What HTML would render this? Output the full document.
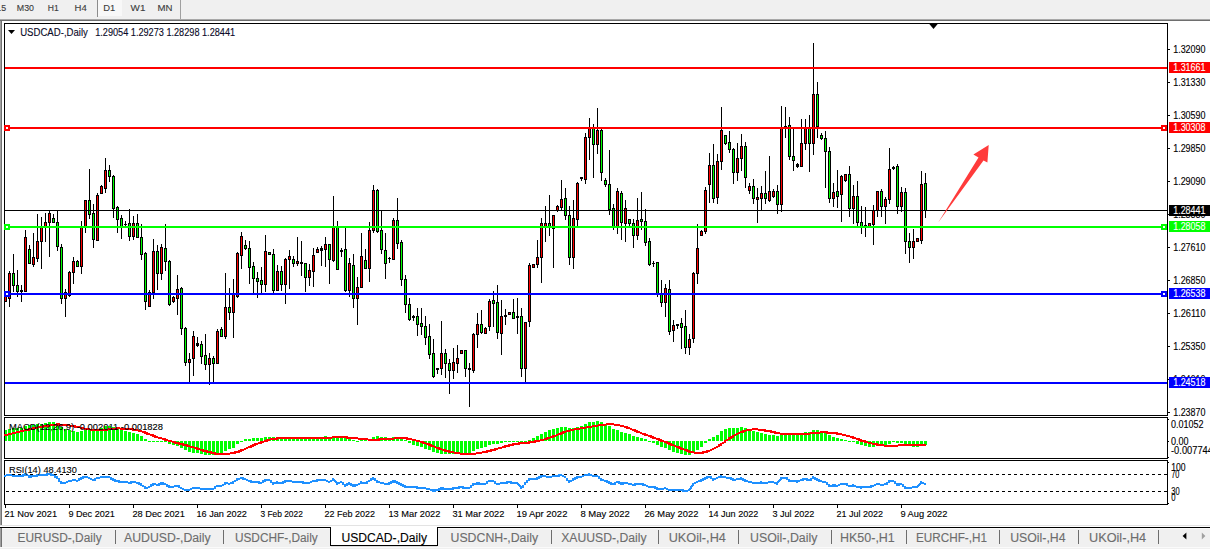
<!DOCTYPE html>
<html><head><meta charset="utf-8"><title>USDCAD Daily</title>
<style>html,body{margin:0;padding:0;background:#fff;overflow:hidden}svg{display:block}text{font-family:'Liberation Sans',sans-serif}</style>
</head><body>
<svg width="1210" height="549" viewBox="0 0 1210 549">
<rect x="0" y="0" width="1210" height="549" fill="#fff"/>
<rect x="0" y="0" width="1210" height="19" fill="#f0f0f0"/>
<rect x="0" y="19" width="1210" height="1" fill="#a8a8a8"/>
<rect x="0" y="20" width="1210" height="1" fill="#6e6e6e"/>
<rect x="98" y="0" width="24" height="16" fill="#f8f8f8"/>
<rect x="97" y="0" width="1" height="17" fill="#8c8c8c"/>
<rect x="180" y="0" width="1" height="19" fill="#a0a0a0"/>
<text x="-11" y="11" font-size="9.6" fill="#3c3c3c" stroke="#3c3c3c" stroke-width="0.12" textLength="17.2" lengthAdjust="spacingAndGlyphs">M15</text>
<text x="16.8" y="11" font-size="9.6" fill="#3c3c3c" stroke="#3c3c3c" stroke-width="0.12" textLength="17.2" lengthAdjust="spacingAndGlyphs">M30</text>
<text x="47.7" y="11" font-size="9.6" fill="#3c3c3c" stroke="#3c3c3c" stroke-width="0.12" textLength="11.0" lengthAdjust="spacingAndGlyphs">H1</text>
<text x="74.5" y="11" font-size="9.6" fill="#3c3c3c" stroke="#3c3c3c" stroke-width="0.12" textLength="12.2" lengthAdjust="spacingAndGlyphs">H4</text>
<text x="103.3" y="11" font-size="9.6" fill="#3c3c3c" stroke="#3c3c3c" stroke-width="0.12" textLength="12.0" lengthAdjust="spacingAndGlyphs">D1</text>
<text x="130.6" y="11" font-size="9.6" fill="#3c3c3c" stroke="#3c3c3c" stroke-width="0.12" textLength="14.8" lengthAdjust="spacingAndGlyphs">W1</text>
<text x="157.4" y="11" font-size="9.6" fill="#3c3c3c" stroke="#3c3c3c" stroke-width="0.12" textLength="15.0" lengthAdjust="spacingAndGlyphs">MN</text>
<rect x="0" y="21" width="1" height="504" fill="#a0a0a0"/>
<rect x="1" y="21" width="1" height="504" fill="#727272"/>
<rect x="4" y="23" width="1164" height="1" fill="#000"/>
<rect x="4" y="415" width="1164" height="1" fill="#000"/>
<rect x="4" y="23" width="1" height="393" fill="#000"/>
<rect x="1167" y="23" width="1" height="393" fill="#000"/>
<rect x="4" y="417" width="1164" height="1" fill="#000"/>
<rect x="4" y="458" width="1164" height="1" fill="#000"/>
<rect x="4" y="417" width="1" height="42" fill="#000"/>
<rect x="1167" y="417" width="1" height="42" fill="#000"/>
<rect x="4" y="460" width="1164" height="1" fill="#000"/>
<rect x="4" y="504" width="1164" height="1" fill="#000"/>
<rect x="4" y="460" width="1" height="45" fill="#000"/>
<rect x="1167" y="460" width="1" height="45" fill="#000"/>
<g shape-rendering="crispEdges">
<rect x="5" y="291" width="1" height="11" fill="#000"/>
<rect x="4" y="295" width="3" height="7" fill="#000"/>
<rect x="5" y="296" width="1" height="5" fill="#ff0000"/>
<rect x="9" y="271" width="1" height="36" fill="#000"/>
<rect x="8" y="273" width="3" height="26" fill="#000"/>
<rect x="9" y="274" width="1" height="24" fill="#ff0000"/>
<rect x="13" y="254" width="1" height="38" fill="#000"/>
<rect x="12" y="273" width="3" height="13" fill="#000"/>
<rect x="13" y="274" width="1" height="11" fill="#00ff00"/>
<rect x="17" y="270" width="1" height="27" fill="#000"/>
<rect x="16" y="285" width="3" height="7" fill="#000"/>
<rect x="17" y="286" width="1" height="5" fill="#00ff00"/>
<rect x="21" y="285" width="1" height="17" fill="#000"/>
<rect x="20" y="290" width="3" height="2" fill="#000"/>
<rect x="25" y="230" width="1" height="62" fill="#000"/>
<rect x="24" y="237" width="3" height="55" fill="#000"/>
<rect x="25" y="238" width="1" height="53" fill="#ff0000"/>
<rect x="29" y="245" width="1" height="19" fill="#000"/>
<rect x="28" y="249" width="3" height="15" fill="#000"/>
<rect x="29" y="250" width="1" height="13" fill="#00ff00"/>
<rect x="33" y="233" width="1" height="34" fill="#000"/>
<rect x="32" y="257" width="3" height="8" fill="#000"/>
<rect x="33" y="258" width="1" height="6" fill="#ff0000"/>
<rect x="37" y="214" width="1" height="48" fill="#000"/>
<rect x="36" y="241" width="3" height="18" fill="#000"/>
<rect x="37" y="242" width="1" height="16" fill="#ff0000"/>
<rect x="41" y="217" width="1" height="52" fill="#000"/>
<rect x="40" y="226" width="3" height="16" fill="#000"/>
<rect x="41" y="227" width="1" height="14" fill="#ff0000"/>
<rect x="45" y="213" width="1" height="29" fill="#000"/>
<rect x="44" y="222" width="3" height="5" fill="#000"/>
<rect x="45" y="223" width="1" height="3" fill="#ff0000"/>
<rect x="49" y="210" width="1" height="47" fill="#000"/>
<rect x="48" y="213" width="3" height="10" fill="#000"/>
<rect x="49" y="214" width="1" height="8" fill="#ff0000"/>
<rect x="53" y="214" width="1" height="9" fill="#000"/>
<rect x="52" y="218" width="3" height="5" fill="#000"/>
<rect x="53" y="219" width="1" height="3" fill="#00ff00"/>
<rect x="57" y="210" width="1" height="41" fill="#000"/>
<rect x="56" y="222" width="3" height="25" fill="#000"/>
<rect x="57" y="223" width="1" height="23" fill="#00ff00"/>
<rect x="61" y="244" width="1" height="60" fill="#000"/>
<rect x="60" y="247" width="3" height="52" fill="#000"/>
<rect x="61" y="248" width="1" height="50" fill="#00ff00"/>
<rect x="65" y="289" width="1" height="28" fill="#000"/>
<rect x="64" y="292" width="3" height="7" fill="#000"/>
<rect x="65" y="293" width="1" height="5" fill="#ff0000"/>
<rect x="69" y="271" width="1" height="26" fill="#000"/>
<rect x="68" y="272" width="3" height="24" fill="#000"/>
<rect x="69" y="273" width="1" height="22" fill="#ff0000"/>
<rect x="73" y="257" width="1" height="27" fill="#000"/>
<rect x="72" y="261" width="3" height="12" fill="#000"/>
<rect x="73" y="262" width="1" height="10" fill="#ff0000"/>
<rect x="77" y="260" width="1" height="7" fill="#000"/>
<rect x="76" y="261" width="3" height="6" fill="#000"/>
<rect x="77" y="262" width="1" height="4" fill="#00ff00"/>
<rect x="81" y="221" width="1" height="53" fill="#000"/>
<rect x="80" y="227" width="3" height="40" fill="#000"/>
<rect x="81" y="228" width="1" height="38" fill="#ff0000"/>
<rect x="85" y="200" width="1" height="33" fill="#000"/>
<rect x="84" y="200" width="3" height="28" fill="#000"/>
<rect x="85" y="201" width="1" height="26" fill="#ff0000"/>
<rect x="89" y="169" width="1" height="50" fill="#000"/>
<rect x="88" y="200" width="3" height="15" fill="#000"/>
<rect x="89" y="201" width="1" height="13" fill="#00ff00"/>
<rect x="93" y="204" width="1" height="44" fill="#000"/>
<rect x="92" y="213" width="3" height="27" fill="#000"/>
<rect x="93" y="214" width="1" height="25" fill="#00ff00"/>
<rect x="97" y="193" width="1" height="48" fill="#000"/>
<rect x="96" y="195" width="3" height="46" fill="#000"/>
<rect x="97" y="196" width="1" height="44" fill="#ff0000"/>
<rect x="101" y="185" width="1" height="9" fill="#000"/>
<rect x="100" y="186" width="3" height="8" fill="#000"/>
<rect x="101" y="187" width="1" height="6" fill="#ff0000"/>
<rect x="105" y="158" width="1" height="35" fill="#000"/>
<rect x="104" y="170" width="3" height="19" fill="#000"/>
<rect x="105" y="171" width="1" height="17" fill="#ff0000"/>
<rect x="109" y="165" width="1" height="17" fill="#000"/>
<rect x="108" y="170" width="3" height="7" fill="#000"/>
<rect x="109" y="171" width="1" height="5" fill="#00ff00"/>
<rect x="113" y="175" width="1" height="43" fill="#000"/>
<rect x="112" y="176" width="3" height="33" fill="#000"/>
<rect x="113" y="177" width="1" height="31" fill="#00ff00"/>
<rect x="117" y="206" width="1" height="27" fill="#000"/>
<rect x="116" y="207" width="3" height="13" fill="#000"/>
<rect x="117" y="208" width="1" height="11" fill="#00ff00"/>
<rect x="121" y="215" width="1" height="24" fill="#000"/>
<rect x="120" y="218" width="3" height="10" fill="#000"/>
<rect x="121" y="219" width="1" height="8" fill="#00ff00"/>
<rect x="125" y="221" width="1" height="6" fill="#000"/>
<rect x="124" y="224" width="3" height="1" fill="#000"/>
<rect x="129" y="209" width="1" height="32" fill="#000"/>
<rect x="128" y="223" width="3" height="14" fill="#000"/>
<rect x="129" y="224" width="1" height="12" fill="#00ff00"/>
<rect x="133" y="216" width="1" height="24" fill="#000"/>
<rect x="132" y="223" width="3" height="14" fill="#000"/>
<rect x="133" y="224" width="1" height="12" fill="#ff0000"/>
<rect x="137" y="214" width="1" height="24" fill="#000"/>
<rect x="136" y="223" width="3" height="15" fill="#000"/>
<rect x="137" y="224" width="1" height="13" fill="#00ff00"/>
<rect x="141" y="224" width="1" height="36" fill="#000"/>
<rect x="140" y="237" width="3" height="18" fill="#000"/>
<rect x="141" y="238" width="1" height="16" fill="#00ff00"/>
<rect x="145" y="252" width="1" height="58" fill="#000"/>
<rect x="144" y="253" width="3" height="49" fill="#000"/>
<rect x="145" y="254" width="1" height="47" fill="#00ff00"/>
<rect x="149" y="290" width="1" height="17" fill="#000"/>
<rect x="148" y="292" width="3" height="15" fill="#000"/>
<rect x="149" y="293" width="1" height="13" fill="#ff0000"/>
<rect x="153" y="239" width="1" height="60" fill="#000"/>
<rect x="152" y="251" width="3" height="42" fill="#000"/>
<rect x="153" y="252" width="1" height="40" fill="#ff0000"/>
<rect x="157" y="245" width="1" height="45" fill="#000"/>
<rect x="156" y="251" width="3" height="23" fill="#000"/>
<rect x="157" y="252" width="1" height="21" fill="#00ff00"/>
<rect x="161" y="244" width="1" height="36" fill="#000"/>
<rect x="160" y="247" width="3" height="27" fill="#000"/>
<rect x="161" y="248" width="1" height="25" fill="#ff0000"/>
<rect x="165" y="224" width="1" height="47" fill="#000"/>
<rect x="164" y="248" width="3" height="14" fill="#000"/>
<rect x="165" y="249" width="1" height="12" fill="#00ff00"/>
<rect x="169" y="260" width="1" height="46" fill="#000"/>
<rect x="168" y="261" width="3" height="44" fill="#000"/>
<rect x="169" y="262" width="1" height="42" fill="#00ff00"/>
<rect x="173" y="296" width="1" height="7" fill="#000"/>
<rect x="172" y="297" width="3" height="5" fill="#000"/>
<rect x="173" y="298" width="1" height="3" fill="#ff0000"/>
<rect x="177" y="275" width="1" height="40" fill="#000"/>
<rect x="176" y="289" width="3" height="10" fill="#000"/>
<rect x="177" y="290" width="1" height="8" fill="#ff0000"/>
<rect x="181" y="287" width="1" height="48" fill="#000"/>
<rect x="180" y="288" width="3" height="41" fill="#000"/>
<rect x="181" y="289" width="1" height="39" fill="#00ff00"/>
<rect x="185" y="327" width="1" height="39" fill="#000"/>
<rect x="184" y="328" width="3" height="35" fill="#000"/>
<rect x="185" y="329" width="1" height="33" fill="#00ff00"/>
<rect x="189" y="353" width="1" height="30" fill="#000"/>
<rect x="188" y="359" width="3" height="4" fill="#000"/>
<rect x="189" y="360" width="1" height="2" fill="#ff0000"/>
<rect x="193" y="331" width="1" height="45" fill="#000"/>
<rect x="192" y="336" width="3" height="23" fill="#000"/>
<rect x="193" y="337" width="1" height="21" fill="#ff0000"/>
<rect x="197" y="337" width="1" height="10" fill="#000"/>
<rect x="196" y="343" width="3" height="3" fill="#000"/>
<rect x="201" y="341" width="1" height="23" fill="#000"/>
<rect x="200" y="344" width="3" height="13" fill="#000"/>
<rect x="201" y="345" width="1" height="11" fill="#00ff00"/>
<rect x="205" y="334" width="1" height="36" fill="#000"/>
<rect x="204" y="355" width="3" height="10" fill="#000"/>
<rect x="205" y="356" width="1" height="8" fill="#00ff00"/>
<rect x="209" y="353" width="1" height="32" fill="#000"/>
<rect x="208" y="358" width="3" height="7" fill="#000"/>
<rect x="209" y="359" width="1" height="5" fill="#ff0000"/>
<rect x="213" y="356" width="1" height="27" fill="#000"/>
<rect x="212" y="358" width="3" height="6" fill="#000"/>
<rect x="213" y="359" width="1" height="4" fill="#00ff00"/>
<rect x="217" y="329" width="1" height="35" fill="#000"/>
<rect x="216" y="331" width="3" height="33" fill="#000"/>
<rect x="217" y="332" width="1" height="31" fill="#ff0000"/>
<rect x="221" y="327" width="1" height="10" fill="#000"/>
<rect x="220" y="329" width="3" height="8" fill="#000"/>
<rect x="221" y="330" width="1" height="6" fill="#00ff00"/>
<rect x="225" y="273" width="1" height="66" fill="#000"/>
<rect x="224" y="307" width="3" height="30" fill="#000"/>
<rect x="225" y="308" width="1" height="28" fill="#ff0000"/>
<rect x="229" y="288" width="1" height="32" fill="#000"/>
<rect x="228" y="307" width="3" height="6" fill="#000"/>
<rect x="229" y="308" width="1" height="4" fill="#00ff00"/>
<rect x="233" y="279" width="1" height="59" fill="#000"/>
<rect x="232" y="294" width="3" height="19" fill="#000"/>
<rect x="233" y="295" width="1" height="17" fill="#ff0000"/>
<rect x="237" y="252" width="1" height="46" fill="#000"/>
<rect x="236" y="253" width="3" height="44" fill="#000"/>
<rect x="237" y="254" width="1" height="42" fill="#ff0000"/>
<rect x="241" y="232" width="1" height="37" fill="#000"/>
<rect x="240" y="236" width="3" height="20" fill="#000"/>
<rect x="241" y="237" width="1" height="18" fill="#ff0000"/>
<rect x="245" y="240" width="1" height="10" fill="#000"/>
<rect x="244" y="245" width="3" height="4" fill="#000"/>
<rect x="245" y="246" width="1" height="2" fill="#00ff00"/>
<rect x="249" y="241" width="1" height="43" fill="#000"/>
<rect x="248" y="248" width="3" height="20" fill="#000"/>
<rect x="249" y="249" width="1" height="18" fill="#00ff00"/>
<rect x="253" y="262" width="1" height="31" fill="#000"/>
<rect x="252" y="266" width="3" height="13" fill="#000"/>
<rect x="253" y="267" width="1" height="11" fill="#00ff00"/>
<rect x="257" y="272" width="1" height="26" fill="#000"/>
<rect x="256" y="278" width="3" height="4" fill="#000"/>
<rect x="257" y="279" width="1" height="2" fill="#00ff00"/>
<rect x="261" y="267" width="1" height="27" fill="#000"/>
<rect x="260" y="280" width="3" height="5" fill="#000"/>
<rect x="261" y="281" width="1" height="3" fill="#00ff00"/>
<rect x="265" y="235" width="1" height="57" fill="#000"/>
<rect x="264" y="251" width="3" height="34" fill="#000"/>
<rect x="265" y="252" width="1" height="32" fill="#ff0000"/>
<rect x="269" y="252" width="1" height="3" fill="#000"/>
<rect x="268" y="252" width="3" height="3" fill="#000"/>
<rect x="269" y="253" width="1" height="1" fill="#00ff00"/>
<rect x="273" y="249" width="1" height="44" fill="#000"/>
<rect x="272" y="254" width="3" height="37" fill="#000"/>
<rect x="273" y="255" width="1" height="35" fill="#00ff00"/>
<rect x="277" y="265" width="1" height="26" fill="#000"/>
<rect x="276" y="271" width="3" height="20" fill="#000"/>
<rect x="277" y="272" width="1" height="18" fill="#ff0000"/>
<rect x="281" y="266" width="1" height="25" fill="#000"/>
<rect x="280" y="271" width="3" height="14" fill="#000"/>
<rect x="281" y="272" width="1" height="12" fill="#00ff00"/>
<rect x="285" y="258" width="1" height="46" fill="#000"/>
<rect x="284" y="259" width="3" height="26" fill="#000"/>
<rect x="285" y="260" width="1" height="24" fill="#ff0000"/>
<rect x="289" y="250" width="1" height="39" fill="#000"/>
<rect x="288" y="256" width="3" height="4" fill="#000"/>
<rect x="289" y="257" width="1" height="2" fill="#ff0000"/>
<rect x="293" y="256" width="1" height="11" fill="#000"/>
<rect x="292" y="259" width="3" height="5" fill="#000"/>
<rect x="293" y="260" width="1" height="3" fill="#00ff00"/>
<rect x="297" y="237" width="1" height="29" fill="#000"/>
<rect x="296" y="261" width="3" height="3" fill="#000"/>
<rect x="297" y="262" width="1" height="1" fill="#ff0000"/>
<rect x="301" y="241" width="1" height="35" fill="#000"/>
<rect x="300" y="262" width="3" height="2" fill="#000"/>
<rect x="305" y="263" width="1" height="29" fill="#000"/>
<rect x="304" y="263" width="3" height="15" fill="#000"/>
<rect x="305" y="264" width="1" height="13" fill="#00ff00"/>
<rect x="309" y="264" width="1" height="22" fill="#000"/>
<rect x="308" y="270" width="3" height="8" fill="#000"/>
<rect x="309" y="271" width="1" height="6" fill="#ff0000"/>
<rect x="313" y="248" width="1" height="39" fill="#000"/>
<rect x="312" y="255" width="3" height="17" fill="#000"/>
<rect x="313" y="256" width="1" height="15" fill="#ff0000"/>
<rect x="317" y="247" width="1" height="6" fill="#000"/>
<rect x="316" y="249" width="3" height="4" fill="#000"/>
<rect x="317" y="250" width="1" height="2" fill="#ff0000"/>
<rect x="321" y="246" width="1" height="20" fill="#000"/>
<rect x="320" y="248" width="3" height="3" fill="#000"/>
<rect x="325" y="237" width="1" height="30" fill="#000"/>
<rect x="324" y="244" width="3" height="6" fill="#000"/>
<rect x="325" y="245" width="1" height="4" fill="#ff0000"/>
<rect x="329" y="244" width="1" height="40" fill="#000"/>
<rect x="328" y="244" width="3" height="16" fill="#000"/>
<rect x="329" y="245" width="1" height="14" fill="#00ff00"/>
<rect x="333" y="196" width="1" height="66" fill="#000"/>
<rect x="332" y="227" width="3" height="34" fill="#000"/>
<rect x="333" y="228" width="1" height="32" fill="#ff0000"/>
<rect x="337" y="221" width="1" height="49" fill="#000"/>
<rect x="336" y="227" width="3" height="43" fill="#000"/>
<rect x="337" y="228" width="1" height="41" fill="#00ff00"/>
<rect x="341" y="248" width="1" height="9" fill="#000"/>
<rect x="340" y="250" width="3" height="2" fill="#000"/>
<rect x="345" y="228" width="1" height="64" fill="#000"/>
<rect x="344" y="249" width="3" height="42" fill="#000"/>
<rect x="345" y="250" width="1" height="40" fill="#00ff00"/>
<rect x="349" y="258" width="1" height="39" fill="#000"/>
<rect x="348" y="263" width="3" height="28" fill="#000"/>
<rect x="349" y="264" width="1" height="26" fill="#ff0000"/>
<rect x="353" y="254" width="1" height="54" fill="#000"/>
<rect x="352" y="265" width="3" height="34" fill="#000"/>
<rect x="353" y="266" width="1" height="32" fill="#00ff00"/>
<rect x="357" y="277" width="1" height="48" fill="#000"/>
<rect x="356" y="287" width="3" height="12" fill="#000"/>
<rect x="357" y="288" width="1" height="10" fill="#ff0000"/>
<rect x="361" y="233" width="1" height="55" fill="#000"/>
<rect x="360" y="256" width="3" height="32" fill="#000"/>
<rect x="361" y="257" width="1" height="30" fill="#ff0000"/>
<rect x="365" y="249" width="1" height="20" fill="#000"/>
<rect x="364" y="260" width="3" height="9" fill="#000"/>
<rect x="365" y="261" width="1" height="7" fill="#00ff00"/>
<rect x="369" y="222" width="1" height="60" fill="#000"/>
<rect x="368" y="230" width="3" height="39" fill="#000"/>
<rect x="369" y="231" width="1" height="37" fill="#ff0000"/>
<rect x="373" y="185" width="1" height="48" fill="#000"/>
<rect x="372" y="190" width="3" height="41" fill="#000"/>
<rect x="373" y="191" width="1" height="39" fill="#ff0000"/>
<rect x="377" y="189" width="1" height="44" fill="#000"/>
<rect x="376" y="190" width="3" height="42" fill="#000"/>
<rect x="377" y="191" width="1" height="40" fill="#00ff00"/>
<rect x="381" y="211" width="1" height="43" fill="#000"/>
<rect x="380" y="230" width="3" height="20" fill="#000"/>
<rect x="381" y="231" width="1" height="18" fill="#00ff00"/>
<rect x="385" y="233" width="1" height="46" fill="#000"/>
<rect x="384" y="250" width="3" height="14" fill="#000"/>
<rect x="385" y="251" width="1" height="12" fill="#00ff00"/>
<rect x="389" y="257" width="1" height="6" fill="#000"/>
<rect x="388" y="258" width="3" height="1" fill="#000"/>
<rect x="393" y="218" width="1" height="42" fill="#000"/>
<rect x="392" y="220" width="3" height="40" fill="#000"/>
<rect x="393" y="221" width="1" height="38" fill="#ff0000"/>
<rect x="397" y="198" width="1" height="51" fill="#000"/>
<rect x="396" y="220" width="3" height="24" fill="#000"/>
<rect x="397" y="221" width="1" height="22" fill="#00ff00"/>
<rect x="401" y="240" width="1" height="46" fill="#000"/>
<rect x="400" y="242" width="3" height="38" fill="#000"/>
<rect x="401" y="243" width="1" height="36" fill="#00ff00"/>
<rect x="405" y="275" width="1" height="38" fill="#000"/>
<rect x="404" y="279" width="3" height="26" fill="#000"/>
<rect x="405" y="280" width="1" height="24" fill="#00ff00"/>
<rect x="409" y="298" width="1" height="23" fill="#000"/>
<rect x="408" y="304" width="3" height="16" fill="#000"/>
<rect x="409" y="305" width="1" height="14" fill="#00ff00"/>
<rect x="413" y="315" width="1" height="6" fill="#000"/>
<rect x="412" y="316" width="3" height="2" fill="#000"/>
<rect x="417" y="308" width="1" height="28" fill="#000"/>
<rect x="416" y="316" width="3" height="9" fill="#000"/>
<rect x="417" y="317" width="1" height="7" fill="#00ff00"/>
<rect x="421" y="308" width="1" height="27" fill="#000"/>
<rect x="420" y="323" width="3" height="4" fill="#000"/>
<rect x="421" y="324" width="1" height="2" fill="#00ff00"/>
<rect x="425" y="316" width="1" height="29" fill="#000"/>
<rect x="424" y="326" width="3" height="12" fill="#000"/>
<rect x="425" y="327" width="1" height="10" fill="#00ff00"/>
<rect x="429" y="324" width="1" height="35" fill="#000"/>
<rect x="428" y="336" width="3" height="19" fill="#000"/>
<rect x="429" y="337" width="1" height="17" fill="#00ff00"/>
<rect x="433" y="339" width="1" height="39" fill="#000"/>
<rect x="432" y="353" width="3" height="24" fill="#000"/>
<rect x="433" y="354" width="1" height="22" fill="#00ff00"/>
<rect x="437" y="368" width="1" height="6" fill="#000"/>
<rect x="436" y="368" width="3" height="2" fill="#000"/>
<rect x="441" y="321" width="1" height="54" fill="#000"/>
<rect x="440" y="353" width="3" height="16" fill="#000"/>
<rect x="441" y="354" width="1" height="14" fill="#ff0000"/>
<rect x="445" y="349" width="1" height="29" fill="#000"/>
<rect x="444" y="353" width="3" height="11" fill="#000"/>
<rect x="445" y="354" width="1" height="9" fill="#00ff00"/>
<rect x="449" y="359" width="1" height="35" fill="#000"/>
<rect x="448" y="363" width="3" height="8" fill="#000"/>
<rect x="449" y="364" width="1" height="6" fill="#00ff00"/>
<rect x="453" y="348" width="1" height="31" fill="#000"/>
<rect x="452" y="362" width="3" height="9" fill="#000"/>
<rect x="453" y="363" width="1" height="7" fill="#ff0000"/>
<rect x="457" y="345" width="1" height="28" fill="#000"/>
<rect x="456" y="358" width="3" height="6" fill="#000"/>
<rect x="457" y="359" width="1" height="4" fill="#ff0000"/>
<rect x="461" y="350" width="1" height="4" fill="#000"/>
<rect x="460" y="350" width="3" height="4" fill="#000"/>
<rect x="461" y="351" width="1" height="2" fill="#ff0000"/>
<rect x="465" y="350" width="1" height="27" fill="#000"/>
<rect x="464" y="350" width="3" height="19" fill="#000"/>
<rect x="465" y="351" width="1" height="17" fill="#00ff00"/>
<rect x="469" y="363" width="1" height="44" fill="#000"/>
<rect x="468" y="368" width="3" height="2" fill="#000"/>
<rect x="473" y="333" width="1" height="40" fill="#000"/>
<rect x="472" y="334" width="3" height="37" fill="#000"/>
<rect x="473" y="335" width="1" height="35" fill="#ff0000"/>
<rect x="477" y="313" width="1" height="35" fill="#000"/>
<rect x="476" y="324" width="3" height="11" fill="#000"/>
<rect x="477" y="325" width="1" height="9" fill="#ff0000"/>
<rect x="481" y="310" width="1" height="24" fill="#000"/>
<rect x="480" y="324" width="3" height="9" fill="#000"/>
<rect x="481" y="325" width="1" height="7" fill="#00ff00"/>
<rect x="485" y="327" width="1" height="7" fill="#000"/>
<rect x="484" y="328" width="3" height="6" fill="#000"/>
<rect x="485" y="329" width="1" height="4" fill="#ff0000"/>
<rect x="489" y="299" width="1" height="32" fill="#000"/>
<rect x="488" y="301" width="3" height="26" fill="#000"/>
<rect x="489" y="302" width="1" height="24" fill="#ff0000"/>
<rect x="493" y="291" width="1" height="36" fill="#000"/>
<rect x="492" y="300" width="3" height="4" fill="#000"/>
<rect x="493" y="301" width="1" height="2" fill="#00ff00"/>
<rect x="497" y="285" width="1" height="54" fill="#000"/>
<rect x="496" y="302" width="3" height="31" fill="#000"/>
<rect x="497" y="303" width="1" height="29" fill="#00ff00"/>
<rect x="501" y="300" width="1" height="55" fill="#000"/>
<rect x="500" y="316" width="3" height="18" fill="#000"/>
<rect x="501" y="317" width="1" height="16" fill="#ff0000"/>
<rect x="505" y="309" width="1" height="16" fill="#000"/>
<rect x="504" y="315" width="3" height="2" fill="#000"/>
<rect x="509" y="312" width="1" height="3" fill="#000"/>
<rect x="508" y="312" width="3" height="3" fill="#000"/>
<rect x="509" y="313" width="1" height="1" fill="#ff0000"/>
<rect x="513" y="299" width="1" height="20" fill="#000"/>
<rect x="512" y="312" width="3" height="7" fill="#000"/>
<rect x="513" y="313" width="1" height="5" fill="#00ff00"/>
<rect x="517" y="298" width="1" height="36" fill="#000"/>
<rect x="516" y="316" width="3" height="2" fill="#000"/>
<rect x="521" y="308" width="1" height="69" fill="#000"/>
<rect x="520" y="316" width="3" height="53" fill="#000"/>
<rect x="521" y="317" width="1" height="51" fill="#00ff00"/>
<rect x="525" y="322" width="1" height="60" fill="#000"/>
<rect x="524" y="322" width="3" height="47" fill="#000"/>
<rect x="525" y="323" width="1" height="45" fill="#ff0000"/>
<rect x="529" y="263" width="1" height="64" fill="#000"/>
<rect x="528" y="265" width="3" height="57" fill="#000"/>
<rect x="529" y="266" width="1" height="55" fill="#ff0000"/>
<rect x="533" y="264" width="1" height="4" fill="#000"/>
<rect x="532" y="264" width="3" height="4" fill="#000"/>
<rect x="533" y="265" width="1" height="2" fill="#ff0000"/>
<rect x="537" y="240" width="1" height="28" fill="#000"/>
<rect x="536" y="257" width="3" height="8" fill="#000"/>
<rect x="537" y="258" width="1" height="6" fill="#ff0000"/>
<rect x="541" y="218" width="1" height="65" fill="#000"/>
<rect x="540" y="223" width="3" height="35" fill="#000"/>
<rect x="541" y="224" width="1" height="33" fill="#ff0000"/>
<rect x="545" y="206" width="1" height="36" fill="#000"/>
<rect x="544" y="223" width="3" height="4" fill="#000"/>
<rect x="545" y="224" width="1" height="2" fill="#ff0000"/>
<rect x="549" y="195" width="1" height="41" fill="#000"/>
<rect x="548" y="223" width="3" height="5" fill="#000"/>
<rect x="549" y="224" width="1" height="3" fill="#00ff00"/>
<rect x="553" y="215" width="1" height="53" fill="#000"/>
<rect x="552" y="215" width="3" height="14" fill="#000"/>
<rect x="553" y="216" width="1" height="12" fill="#ff0000"/>
<rect x="557" y="205" width="1" height="7" fill="#000"/>
<rect x="556" y="206" width="3" height="5" fill="#000"/>
<rect x="557" y="207" width="1" height="3" fill="#ff0000"/>
<rect x="561" y="180" width="1" height="30" fill="#000"/>
<rect x="560" y="199" width="3" height="9" fill="#000"/>
<rect x="561" y="200" width="1" height="7" fill="#ff0000"/>
<rect x="565" y="188" width="1" height="32" fill="#000"/>
<rect x="564" y="198" width="3" height="18" fill="#000"/>
<rect x="565" y="199" width="1" height="16" fill="#00ff00"/>
<rect x="569" y="206" width="1" height="59" fill="#000"/>
<rect x="568" y="215" width="3" height="43" fill="#000"/>
<rect x="569" y="216" width="1" height="41" fill="#00ff00"/>
<rect x="573" y="200" width="1" height="69" fill="#000"/>
<rect x="572" y="218" width="3" height="40" fill="#000"/>
<rect x="573" y="219" width="1" height="38" fill="#ff0000"/>
<rect x="577" y="182" width="1" height="44" fill="#000"/>
<rect x="576" y="183" width="3" height="37" fill="#000"/>
<rect x="577" y="184" width="1" height="35" fill="#ff0000"/>
<rect x="581" y="177" width="1" height="4" fill="#000"/>
<rect x="580" y="177" width="3" height="2" fill="#000"/>
<rect x="585" y="133" width="1" height="51" fill="#000"/>
<rect x="584" y="137" width="3" height="43" fill="#000"/>
<rect x="585" y="138" width="1" height="41" fill="#ff0000"/>
<rect x="589" y="118" width="1" height="42" fill="#000"/>
<rect x="588" y="128" width="3" height="10" fill="#000"/>
<rect x="589" y="129" width="1" height="8" fill="#ff0000"/>
<rect x="593" y="124" width="1" height="54" fill="#000"/>
<rect x="592" y="128" width="3" height="17" fill="#000"/>
<rect x="593" y="129" width="1" height="15" fill="#00ff00"/>
<rect x="597" y="108" width="1" height="46" fill="#000"/>
<rect x="596" y="130" width="3" height="15" fill="#000"/>
<rect x="597" y="131" width="1" height="13" fill="#ff0000"/>
<rect x="601" y="128" width="1" height="53" fill="#000"/>
<rect x="600" y="130" width="3" height="43" fill="#000"/>
<rect x="601" y="131" width="1" height="41" fill="#00ff00"/>
<rect x="605" y="178" width="1" height="9" fill="#000"/>
<rect x="604" y="180" width="3" height="5" fill="#000"/>
<rect x="605" y="181" width="1" height="3" fill="#00ff00"/>
<rect x="609" y="150" width="1" height="65" fill="#000"/>
<rect x="608" y="184" width="3" height="26" fill="#000"/>
<rect x="609" y="185" width="1" height="24" fill="#00ff00"/>
<rect x="613" y="204" width="1" height="26" fill="#000"/>
<rect x="612" y="208" width="3" height="20" fill="#000"/>
<rect x="613" y="209" width="1" height="18" fill="#00ff00"/>
<rect x="617" y="188" width="1" height="46" fill="#000"/>
<rect x="616" y="191" width="3" height="36" fill="#000"/>
<rect x="617" y="192" width="1" height="34" fill="#ff0000"/>
<rect x="621" y="191" width="1" height="49" fill="#000"/>
<rect x="620" y="193" width="3" height="30" fill="#000"/>
<rect x="621" y="194" width="1" height="28" fill="#00ff00"/>
<rect x="625" y="200" width="1" height="42" fill="#000"/>
<rect x="624" y="208" width="3" height="16" fill="#000"/>
<rect x="625" y="209" width="1" height="14" fill="#ff0000"/>
<rect x="629" y="219" width="1" height="7" fill="#000"/>
<rect x="628" y="219" width="3" height="5" fill="#000"/>
<rect x="629" y="220" width="1" height="3" fill="#00ff00"/>
<rect x="633" y="219" width="1" height="29" fill="#000"/>
<rect x="632" y="223" width="3" height="13" fill="#000"/>
<rect x="633" y="224" width="1" height="11" fill="#00ff00"/>
<rect x="637" y="198" width="1" height="42" fill="#000"/>
<rect x="636" y="220" width="3" height="16" fill="#000"/>
<rect x="637" y="221" width="1" height="14" fill="#ff0000"/>
<rect x="641" y="192" width="1" height="38" fill="#000"/>
<rect x="640" y="219" width="3" height="3" fill="#000"/>
<rect x="641" y="220" width="1" height="1" fill="#00ff00"/>
<rect x="645" y="209" width="1" height="37" fill="#000"/>
<rect x="644" y="221" width="3" height="22" fill="#000"/>
<rect x="645" y="222" width="1" height="20" fill="#00ff00"/>
<rect x="649" y="238" width="1" height="28" fill="#000"/>
<rect x="648" y="241" width="3" height="24" fill="#000"/>
<rect x="649" y="242" width="1" height="22" fill="#00ff00"/>
<rect x="653" y="261" width="1" height="6" fill="#000"/>
<rect x="652" y="263" width="3" height="1" fill="#000"/>
<rect x="657" y="262" width="1" height="35" fill="#000"/>
<rect x="656" y="262" width="3" height="33" fill="#000"/>
<rect x="657" y="263" width="1" height="31" fill="#00ff00"/>
<rect x="661" y="280" width="1" height="27" fill="#000"/>
<rect x="660" y="294" width="3" height="9" fill="#000"/>
<rect x="661" y="295" width="1" height="7" fill="#00ff00"/>
<rect x="665" y="284" width="1" height="33" fill="#000"/>
<rect x="664" y="288" width="3" height="15" fill="#000"/>
<rect x="665" y="289" width="1" height="13" fill="#ff0000"/>
<rect x="669" y="280" width="1" height="55" fill="#000"/>
<rect x="668" y="289" width="3" height="43" fill="#000"/>
<rect x="669" y="290" width="1" height="41" fill="#00ff00"/>
<rect x="673" y="320" width="1" height="22" fill="#000"/>
<rect x="672" y="325" width="3" height="6" fill="#000"/>
<rect x="673" y="326" width="1" height="4" fill="#ff0000"/>
<rect x="677" y="324" width="1" height="5" fill="#000"/>
<rect x="676" y="324" width="3" height="2" fill="#000"/>
<rect x="681" y="318" width="1" height="31" fill="#000"/>
<rect x="680" y="323" width="3" height="5" fill="#000"/>
<rect x="681" y="324" width="1" height="3" fill="#00ff00"/>
<rect x="685" y="310" width="1" height="44" fill="#000"/>
<rect x="684" y="326" width="3" height="22" fill="#000"/>
<rect x="685" y="327" width="1" height="20" fill="#00ff00"/>
<rect x="689" y="334" width="1" height="21" fill="#000"/>
<rect x="688" y="339" width="3" height="9" fill="#000"/>
<rect x="689" y="340" width="1" height="7" fill="#ff0000"/>
<rect x="693" y="272" width="1" height="71" fill="#000"/>
<rect x="692" y="273" width="3" height="66" fill="#000"/>
<rect x="693" y="274" width="1" height="64" fill="#ff0000"/>
<rect x="697" y="224" width="1" height="60" fill="#000"/>
<rect x="696" y="248" width="3" height="26" fill="#000"/>
<rect x="697" y="249" width="1" height="24" fill="#ff0000"/>
<rect x="701" y="230" width="1" height="6" fill="#000"/>
<rect x="700" y="231" width="3" height="5" fill="#000"/>
<rect x="701" y="232" width="1" height="3" fill="#ff0000"/>
<rect x="705" y="187" width="1" height="47" fill="#000"/>
<rect x="704" y="190" width="3" height="42" fill="#000"/>
<rect x="705" y="191" width="1" height="40" fill="#ff0000"/>
<rect x="709" y="153" width="1" height="50" fill="#000"/>
<rect x="708" y="165" width="3" height="20" fill="#000"/>
<rect x="709" y="166" width="1" height="18" fill="#ff0000"/>
<rect x="713" y="144" width="1" height="59" fill="#000"/>
<rect x="712" y="165" width="3" height="34" fill="#000"/>
<rect x="713" y="166" width="1" height="32" fill="#00ff00"/>
<rect x="717" y="154" width="1" height="50" fill="#000"/>
<rect x="716" y="161" width="3" height="37" fill="#000"/>
<rect x="717" y="162" width="1" height="35" fill="#ff0000"/>
<rect x="721" y="107" width="1" height="63" fill="#000"/>
<rect x="720" y="130" width="3" height="32" fill="#000"/>
<rect x="721" y="131" width="1" height="30" fill="#ff0000"/>
<rect x="725" y="135" width="1" height="10" fill="#000"/>
<rect x="724" y="135" width="3" height="9" fill="#000"/>
<rect x="725" y="136" width="1" height="7" fill="#00ff00"/>
<rect x="729" y="131" width="1" height="22" fill="#000"/>
<rect x="728" y="142" width="3" height="8" fill="#000"/>
<rect x="729" y="143" width="1" height="6" fill="#00ff00"/>
<rect x="733" y="148" width="1" height="36" fill="#000"/>
<rect x="732" y="149" width="3" height="24" fill="#000"/>
<rect x="733" y="150" width="1" height="22" fill="#00ff00"/>
<rect x="737" y="143" width="1" height="38" fill="#000"/>
<rect x="736" y="158" width="3" height="15" fill="#000"/>
<rect x="737" y="159" width="1" height="13" fill="#ff0000"/>
<rect x="741" y="134" width="1" height="37" fill="#000"/>
<rect x="740" y="146" width="3" height="13" fill="#000"/>
<rect x="741" y="147" width="1" height="11" fill="#ff0000"/>
<rect x="745" y="142" width="1" height="46" fill="#000"/>
<rect x="744" y="146" width="3" height="32" fill="#000"/>
<rect x="745" y="147" width="1" height="30" fill="#00ff00"/>
<rect x="749" y="183" width="1" height="11" fill="#000"/>
<rect x="748" y="186" width="3" height="5" fill="#000"/>
<rect x="749" y="187" width="1" height="3" fill="#ff0000"/>
<rect x="753" y="179" width="1" height="25" fill="#000"/>
<rect x="752" y="186" width="3" height="13" fill="#000"/>
<rect x="753" y="187" width="1" height="11" fill="#00ff00"/>
<rect x="757" y="188" width="1" height="35" fill="#000"/>
<rect x="756" y="197" width="3" height="3" fill="#000"/>
<rect x="757" y="198" width="1" height="1" fill="#ff0000"/>
<rect x="761" y="186" width="1" height="25" fill="#000"/>
<rect x="760" y="193" width="3" height="6" fill="#000"/>
<rect x="761" y="194" width="1" height="4" fill="#ff0000"/>
<rect x="765" y="171" width="1" height="33" fill="#000"/>
<rect x="764" y="193" width="3" height="6" fill="#000"/>
<rect x="765" y="194" width="1" height="4" fill="#00ff00"/>
<rect x="769" y="156" width="1" height="46" fill="#000"/>
<rect x="768" y="191" width="3" height="10" fill="#000"/>
<rect x="769" y="192" width="1" height="8" fill="#ff0000"/>
<rect x="773" y="189" width="1" height="9" fill="#000"/>
<rect x="772" y="191" width="3" height="6" fill="#000"/>
<rect x="773" y="192" width="1" height="4" fill="#ff0000"/>
<rect x="777" y="185" width="1" height="29" fill="#000"/>
<rect x="776" y="191" width="3" height="14" fill="#000"/>
<rect x="777" y="192" width="1" height="12" fill="#00ff00"/>
<rect x="781" y="106" width="1" height="106" fill="#000"/>
<rect x="780" y="128" width="3" height="77" fill="#000"/>
<rect x="781" y="129" width="1" height="75" fill="#ff0000"/>
<rect x="785" y="107" width="1" height="31" fill="#000"/>
<rect x="784" y="126" width="3" height="3" fill="#000"/>
<rect x="785" y="127" width="1" height="1" fill="#ff0000"/>
<rect x="789" y="117" width="1" height="43" fill="#000"/>
<rect x="788" y="125" width="3" height="32" fill="#000"/>
<rect x="789" y="126" width="1" height="30" fill="#00ff00"/>
<rect x="793" y="127" width="1" height="44" fill="#000"/>
<rect x="792" y="156" width="3" height="5" fill="#000"/>
<rect x="793" y="157" width="1" height="3" fill="#00ff00"/>
<rect x="797" y="163" width="1" height="5" fill="#000"/>
<rect x="796" y="164" width="3" height="3" fill="#000"/>
<rect x="801" y="119" width="1" height="48" fill="#000"/>
<rect x="800" y="143" width="3" height="24" fill="#000"/>
<rect x="801" y="144" width="1" height="22" fill="#ff0000"/>
<rect x="805" y="119" width="1" height="31" fill="#000"/>
<rect x="804" y="128" width="3" height="16" fill="#000"/>
<rect x="805" y="129" width="1" height="14" fill="#ff0000"/>
<rect x="809" y="115" width="1" height="57" fill="#000"/>
<rect x="808" y="128" width="3" height="16" fill="#000"/>
<rect x="809" y="129" width="1" height="14" fill="#00ff00"/>
<rect x="813" y="43" width="1" height="112" fill="#000"/>
<rect x="812" y="94" width="3" height="50" fill="#000"/>
<rect x="813" y="95" width="1" height="48" fill="#ff0000"/>
<rect x="817" y="82" width="1" height="56" fill="#000"/>
<rect x="816" y="94" width="3" height="33" fill="#000"/>
<rect x="817" y="95" width="1" height="31" fill="#00ff00"/>
<rect x="821" y="133" width="1" height="7" fill="#000"/>
<rect x="820" y="135" width="3" height="4" fill="#000"/>
<rect x="821" y="136" width="1" height="2" fill="#00ff00"/>
<rect x="825" y="131" width="1" height="57" fill="#000"/>
<rect x="824" y="138" width="3" height="14" fill="#000"/>
<rect x="825" y="139" width="1" height="12" fill="#00ff00"/>
<rect x="829" y="147" width="1" height="56" fill="#000"/>
<rect x="828" y="151" width="3" height="48" fill="#000"/>
<rect x="829" y="152" width="1" height="46" fill="#00ff00"/>
<rect x="833" y="183" width="1" height="24" fill="#000"/>
<rect x="832" y="192" width="3" height="7" fill="#000"/>
<rect x="833" y="193" width="1" height="5" fill="#ff0000"/>
<rect x="837" y="170" width="1" height="38" fill="#000"/>
<rect x="836" y="191" width="3" height="6" fill="#000"/>
<rect x="837" y="192" width="1" height="4" fill="#00ff00"/>
<rect x="841" y="175" width="1" height="47" fill="#000"/>
<rect x="840" y="176" width="3" height="19" fill="#000"/>
<rect x="841" y="177" width="1" height="17" fill="#ff0000"/>
<rect x="845" y="174" width="1" height="8" fill="#000"/>
<rect x="844" y="174" width="3" height="7" fill="#000"/>
<rect x="845" y="175" width="1" height="5" fill="#ff0000"/>
<rect x="849" y="166" width="1" height="51" fill="#000"/>
<rect x="848" y="174" width="3" height="35" fill="#000"/>
<rect x="849" y="175" width="1" height="33" fill="#00ff00"/>
<rect x="853" y="185" width="1" height="39" fill="#000"/>
<rect x="852" y="196" width="3" height="13" fill="#000"/>
<rect x="853" y="197" width="1" height="11" fill="#ff0000"/>
<rect x="857" y="181" width="1" height="46" fill="#000"/>
<rect x="856" y="196" width="3" height="27" fill="#000"/>
<rect x="857" y="197" width="1" height="25" fill="#00ff00"/>
<rect x="861" y="206" width="1" height="28" fill="#000"/>
<rect x="860" y="222" width="3" height="6" fill="#000"/>
<rect x="861" y="223" width="1" height="4" fill="#00ff00"/>
<rect x="865" y="207" width="1" height="30" fill="#000"/>
<rect x="864" y="225" width="3" height="2" fill="#000"/>
<rect x="869" y="223" width="1" height="4" fill="#000"/>
<rect x="868" y="223" width="3" height="4" fill="#000"/>
<rect x="869" y="224" width="1" height="2" fill="#ff0000"/>
<rect x="873" y="205" width="1" height="40" fill="#000"/>
<rect x="872" y="210" width="3" height="15" fill="#000"/>
<rect x="873" y="211" width="1" height="13" fill="#ff0000"/>
<rect x="877" y="191" width="1" height="26" fill="#000"/>
<rect x="876" y="191" width="3" height="20" fill="#000"/>
<rect x="877" y="192" width="1" height="18" fill="#ff0000"/>
<rect x="881" y="189" width="1" height="28" fill="#000"/>
<rect x="880" y="191" width="3" height="16" fill="#000"/>
<rect x="881" y="192" width="1" height="14" fill="#00ff00"/>
<rect x="885" y="197" width="1" height="27" fill="#000"/>
<rect x="884" y="199" width="3" height="8" fill="#000"/>
<rect x="885" y="200" width="1" height="6" fill="#ff0000"/>
<rect x="889" y="148" width="1" height="56" fill="#000"/>
<rect x="888" y="169" width="3" height="31" fill="#000"/>
<rect x="889" y="170" width="1" height="29" fill="#ff0000"/>
<rect x="893" y="166" width="1" height="4" fill="#000"/>
<rect x="892" y="167" width="3" height="2" fill="#000"/>
<rect x="897" y="164" width="1" height="50" fill="#000"/>
<rect x="896" y="166" width="3" height="41" fill="#000"/>
<rect x="897" y="167" width="1" height="39" fill="#00ff00"/>
<rect x="901" y="187" width="1" height="25" fill="#000"/>
<rect x="900" y="192" width="3" height="15" fill="#000"/>
<rect x="901" y="193" width="1" height="13" fill="#ff0000"/>
<rect x="905" y="188" width="1" height="66" fill="#000"/>
<rect x="904" y="192" width="3" height="50" fill="#000"/>
<rect x="905" y="193" width="1" height="48" fill="#00ff00"/>
<rect x="909" y="233" width="1" height="30" fill="#000"/>
<rect x="908" y="241" width="3" height="7" fill="#000"/>
<rect x="909" y="242" width="1" height="5" fill="#00ff00"/>
<rect x="913" y="229" width="1" height="30" fill="#000"/>
<rect x="912" y="241" width="3" height="7" fill="#000"/>
<rect x="913" y="242" width="1" height="5" fill="#ff0000"/>
<rect x="917" y="238" width="1" height="4" fill="#000"/>
<rect x="916" y="238" width="3" height="4" fill="#000"/>
<rect x="917" y="239" width="1" height="2" fill="#ff0000"/>
<rect x="921" y="171" width="1" height="73" fill="#000"/>
<rect x="920" y="184" width="3" height="57" fill="#000"/>
<rect x="921" y="185" width="1" height="55" fill="#ff0000"/>
<rect x="925" y="173" width="1" height="45" fill="#000"/>
<rect x="924" y="183" width="3" height="28" fill="#000"/>
<rect x="925" y="184" width="1" height="26" fill="#00ff00"/>
</g>
<rect x="5" y="67" width="1162" height="2" fill="#ff0000"/>
<rect x="5" y="127" width="1162" height="2" fill="#ff0000"/>
<rect x="4" y="125" width="6" height="6" fill="#ff0000"/>
<rect x="6" y="127" width="2" height="2" fill="#fff"/>
<rect x="1161" y="125" width="6" height="6" fill="#ff0000"/>
<rect x="1163" y="127" width="2" height="2" fill="#fff"/>
<rect x="5" y="210" width="1162" height="1" fill="#000"/>
<rect x="5" y="226" width="1162" height="2" fill="#00ff00"/>
<rect x="4" y="224" width="6" height="6" fill="#00ff00"/>
<rect x="6" y="226" width="2" height="2" fill="#fff"/>
<rect x="1161" y="224" width="6" height="6" fill="#00ff00"/>
<rect x="1163" y="226" width="2" height="2" fill="#fff"/>
<rect x="5" y="293" width="1162" height="2" fill="#0000ff"/>
<rect x="4" y="291" width="6" height="6" fill="#0000ff"/>
<rect x="6" y="293" width="2" height="2" fill="#fff"/>
<rect x="1161" y="291" width="6" height="6" fill="#0000ff"/>
<rect x="1163" y="293" width="2" height="2" fill="#fff"/>
<rect x="5" y="382" width="1162" height="2" fill="#0000ff"/>
<polygon points="928.5,23 938.5,23 933.5,29" fill="#000"/>
<polygon points="938.2,222.4 978.5,157.5 973.4,154.4 988.7,144.9 987.4,162.6 983.5,160.5" fill="#ff3b3b"/>
<polygon points="8,30 15,30 11.5,34" fill="#000"/>
<text x="20.2" y="35.5" font-size="10" fill="#0a0a28" stroke="#0a0a28" stroke-width="0.12" textLength="67.7" lengthAdjust="spacingAndGlyphs">USDCAD-,Daily</text>
<text x="95.2" y="35.5" font-size="10" fill="#0a0a28" stroke="#0a0a28" stroke-width="0.12" textLength="139.9" lengthAdjust="spacingAndGlyphs">1.29054 1.29273 1.28298 1.28441</text>
<rect x="1168" y="49" width="2" height="1" fill="#000"/>
<text x="1173.2" y="53" font-size="10.0" fill="#000" stroke="#000" stroke-width="0.12" textLength="32.3" lengthAdjust="spacingAndGlyphs">1.32090</text>
<rect x="1168" y="82" width="2" height="1" fill="#000"/>
<text x="1173.2" y="86" font-size="10.0" fill="#000" stroke="#000" stroke-width="0.12" textLength="32.3" lengthAdjust="spacingAndGlyphs">1.31330</text>
<rect x="1168" y="115" width="2" height="1" fill="#000"/>
<text x="1173.2" y="119" font-size="10.0" fill="#000" stroke="#000" stroke-width="0.12" textLength="32.3" lengthAdjust="spacingAndGlyphs">1.30590</text>
<rect x="1168" y="148" width="2" height="1" fill="#000"/>
<text x="1173.2" y="152" font-size="10.0" fill="#000" stroke="#000" stroke-width="0.12" textLength="32.3" lengthAdjust="spacingAndGlyphs">1.29850</text>
<rect x="1168" y="181" width="2" height="1" fill="#000"/>
<text x="1173.2" y="185" font-size="10.0" fill="#000" stroke="#000" stroke-width="0.12" textLength="32.3" lengthAdjust="spacingAndGlyphs">1.29090</text>
<rect x="1168" y="214" width="2" height="1" fill="#000"/>
<text x="1173.2" y="218" font-size="10.0" fill="#000" stroke="#000" stroke-width="0.12" textLength="32.3" lengthAdjust="spacingAndGlyphs">1.28330</text>
<rect x="1168" y="247" width="2" height="1" fill="#000"/>
<text x="1173.2" y="251" font-size="10.0" fill="#000" stroke="#000" stroke-width="0.12" textLength="32.3" lengthAdjust="spacingAndGlyphs">1.27610</text>
<rect x="1168" y="280" width="2" height="1" fill="#000"/>
<text x="1173.2" y="284" font-size="10.0" fill="#000" stroke="#000" stroke-width="0.12" textLength="32.3" lengthAdjust="spacingAndGlyphs">1.26850</text>
<rect x="1168" y="313" width="2" height="1" fill="#000"/>
<text x="1173.2" y="317" font-size="10.0" fill="#000" stroke="#000" stroke-width="0.12" textLength="32.3" lengthAdjust="spacingAndGlyphs">1.26110</text>
<rect x="1168" y="346" width="2" height="1" fill="#000"/>
<text x="1173.2" y="350" font-size="10.0" fill="#000" stroke="#000" stroke-width="0.12" textLength="32.3" lengthAdjust="spacingAndGlyphs">1.25350</text>
<rect x="1168" y="379" width="2" height="1" fill="#000"/>
<text x="1173.2" y="383" font-size="10.0" fill="#000" stroke="#000" stroke-width="0.12" textLength="32.3" lengthAdjust="spacingAndGlyphs">1.24610</text>
<rect x="1168" y="412" width="2" height="1" fill="#000"/>
<text x="1173.2" y="416" font-size="10.0" fill="#000" stroke="#000" stroke-width="0.12" textLength="32.3" lengthAdjust="spacingAndGlyphs">1.23870</text>
<rect x="1169" y="62" width="41" height="11" fill="#ff0000"/>
<text x="1173.2" y="71" font-size="10.0" fill="#fff" stroke="#fff" stroke-width="0.12" textLength="32.3" lengthAdjust="spacingAndGlyphs">1.31661</text>
<rect x="1169" y="122" width="41" height="11" fill="#ff0000"/>
<text x="1173.2" y="131" font-size="10.0" fill="#fff" stroke="#fff" stroke-width="0.12" textLength="32.3" lengthAdjust="spacingAndGlyphs">1.30308</text>
<rect x="1169" y="205" width="41" height="11" fill="#000000"/>
<text x="1173.2" y="214" font-size="10.0" fill="#fff" stroke="#fff" stroke-width="0.12" textLength="32.3" lengthAdjust="spacingAndGlyphs">1.28441</text>
<rect x="1169" y="221" width="41" height="11" fill="#00ff00"/>
<text x="1173.2" y="230" font-size="10.0" fill="#fff" stroke="#fff" stroke-width="0.12" textLength="32.3" lengthAdjust="spacingAndGlyphs">1.28058</text>
<rect x="1169" y="288" width="41" height="11" fill="#0000ff"/>
<text x="1173.2" y="297" font-size="10.0" fill="#fff" stroke="#fff" stroke-width="0.12" textLength="32.3" lengthAdjust="spacingAndGlyphs">1.26538</text>
<rect x="1169" y="377" width="41" height="11" fill="#0000ff"/>
<text x="1173.2" y="386" font-size="10.0" fill="#fff" stroke="#fff" stroke-width="0.12" textLength="32.3" lengthAdjust="spacingAndGlyphs">1.24518</text>
<g shape-rendering="crispEdges">
<rect x="5" y="430" width="2" height="11" fill="#00ff00"/>
<rect x="8" y="429" width="3" height="12" fill="#00ff00"/>
<rect x="12" y="428" width="3" height="13" fill="#00ff00"/>
<rect x="16" y="428" width="3" height="13" fill="#00ff00"/>
<rect x="20" y="428" width="3" height="13" fill="#00ff00"/>
<rect x="24" y="426" width="3" height="15" fill="#00ff00"/>
<rect x="28" y="425" width="3" height="16" fill="#00ff00"/>
<rect x="32" y="425" width="3" height="16" fill="#00ff00"/>
<rect x="36" y="424" width="3" height="17" fill="#00ff00"/>
<rect x="40" y="424" width="3" height="17" fill="#00ff00"/>
<rect x="44" y="423" width="3" height="18" fill="#00ff00"/>
<rect x="48" y="422" width="3" height="19" fill="#00ff00"/>
<rect x="52" y="422" width="3" height="19" fill="#00ff00"/>
<rect x="56" y="424" width="3" height="17" fill="#00ff00"/>
<rect x="60" y="427" width="3" height="14" fill="#00ff00"/>
<rect x="64" y="429" width="3" height="12" fill="#00ff00"/>
<rect x="68" y="430" width="3" height="11" fill="#00ff00"/>
<rect x="72" y="431" width="3" height="10" fill="#00ff00"/>
<rect x="76" y="432" width="3" height="9" fill="#00ff00"/>
<rect x="80" y="431" width="3" height="10" fill="#00ff00"/>
<rect x="84" y="429" width="3" height="12" fill="#00ff00"/>
<rect x="88" y="429" width="3" height="12" fill="#00ff00"/>
<rect x="92" y="430" width="3" height="11" fill="#00ff00"/>
<rect x="96" y="429" width="3" height="12" fill="#00ff00"/>
<rect x="100" y="428" width="3" height="13" fill="#00ff00"/>
<rect x="104" y="426" width="3" height="15" fill="#00ff00"/>
<rect x="108" y="426" width="3" height="15" fill="#00ff00"/>
<rect x="112" y="427" width="3" height="14" fill="#00ff00"/>
<rect x="116" y="428" width="3" height="13" fill="#00ff00"/>
<rect x="120" y="430" width="3" height="11" fill="#00ff00"/>
<rect x="124" y="431" width="3" height="10" fill="#00ff00"/>
<rect x="128" y="432" width="3" height="9" fill="#00ff00"/>
<rect x="132" y="433" width="3" height="8" fill="#00ff00"/>
<rect x="136" y="434" width="3" height="7" fill="#00ff00"/>
<rect x="140" y="436" width="3" height="5" fill="#00ff00"/>
<rect x="144" y="439" width="3" height="2" fill="#00ff00"/>
<rect x="148" y="441" width="3" height="1" fill="#00ff00"/>
<rect x="152" y="441" width="3" height="1" fill="#00ff00"/>
<rect x="156" y="441" width="3" height="1" fill="#00ff00"/>
<rect x="160" y="441" width="3" height="1" fill="#00ff00"/>
<rect x="164" y="441" width="3" height="1" fill="#00ff00"/>
<rect x="168" y="441" width="3" height="3" fill="#00ff00"/>
<rect x="172" y="441" width="3" height="4" fill="#00ff00"/>
<rect x="176" y="441" width="3" height="5" fill="#00ff00"/>
<rect x="180" y="441" width="3" height="7" fill="#00ff00"/>
<rect x="184" y="441" width="3" height="9" fill="#00ff00"/>
<rect x="188" y="441" width="3" height="11" fill="#00ff00"/>
<rect x="192" y="441" width="3" height="12" fill="#00ff00"/>
<rect x="196" y="441" width="3" height="12" fill="#00ff00"/>
<rect x="200" y="441" width="3" height="13" fill="#00ff00"/>
<rect x="204" y="441" width="3" height="14" fill="#00ff00"/>
<rect x="208" y="441" width="3" height="14" fill="#00ff00"/>
<rect x="212" y="441" width="3" height="14" fill="#00ff00"/>
<rect x="216" y="441" width="3" height="13" fill="#00ff00"/>
<rect x="220" y="441" width="3" height="12" fill="#00ff00"/>
<rect x="224" y="441" width="3" height="10" fill="#00ff00"/>
<rect x="228" y="441" width="3" height="8" fill="#00ff00"/>
<rect x="232" y="441" width="3" height="7" fill="#00ff00"/>
<rect x="236" y="441" width="3" height="3" fill="#00ff00"/>
<rect x="240" y="441" width="3" height="1" fill="#00ff00"/>
<rect x="244" y="439" width="3" height="2" fill="#00ff00"/>
<rect x="248" y="439" width="3" height="2" fill="#00ff00"/>
<rect x="252" y="438" width="3" height="3" fill="#00ff00"/>
<rect x="256" y="438" width="3" height="3" fill="#00ff00"/>
<rect x="260" y="438" width="3" height="3" fill="#00ff00"/>
<rect x="264" y="437" width="3" height="4" fill="#00ff00"/>
<rect x="268" y="437" width="3" height="4" fill="#00ff00"/>
<rect x="272" y="437" width="3" height="4" fill="#00ff00"/>
<rect x="276" y="437" width="3" height="4" fill="#00ff00"/>
<rect x="280" y="438" width="3" height="3" fill="#00ff00"/>
<rect x="284" y="437" width="3" height="4" fill="#00ff00"/>
<rect x="288" y="437" width="3" height="4" fill="#00ff00"/>
<rect x="292" y="437" width="3" height="4" fill="#00ff00"/>
<rect x="296" y="437" width="3" height="4" fill="#00ff00"/>
<rect x="300" y="437" width="3" height="4" fill="#00ff00"/>
<rect x="304" y="438" width="3" height="3" fill="#00ff00"/>
<rect x="308" y="438" width="3" height="3" fill="#00ff00"/>
<rect x="312" y="438" width="3" height="3" fill="#00ff00"/>
<rect x="316" y="437" width="3" height="4" fill="#00ff00"/>
<rect x="320" y="437" width="3" height="4" fill="#00ff00"/>
<rect x="324" y="436" width="3" height="5" fill="#00ff00"/>
<rect x="328" y="437" width="3" height="4" fill="#00ff00"/>
<rect x="332" y="436" width="3" height="5" fill="#00ff00"/>
<rect x="336" y="437" width="3" height="4" fill="#00ff00"/>
<rect x="340" y="437" width="3" height="4" fill="#00ff00"/>
<rect x="344" y="438" width="3" height="3" fill="#00ff00"/>
<rect x="348" y="439" width="3" height="2" fill="#00ff00"/>
<rect x="352" y="440" width="3" height="1" fill="#00ff00"/>
<rect x="356" y="441" width="3" height="1" fill="#00ff00"/>
<rect x="360" y="440" width="3" height="1" fill="#00ff00"/>
<rect x="364" y="440" width="3" height="1" fill="#00ff00"/>
<rect x="368" y="439" width="3" height="2" fill="#00ff00"/>
<rect x="372" y="437" width="3" height="4" fill="#00ff00"/>
<rect x="376" y="436" width="3" height="5" fill="#00ff00"/>
<rect x="380" y="437" width="3" height="4" fill="#00ff00"/>
<rect x="384" y="437" width="3" height="4" fill="#00ff00"/>
<rect x="388" y="438" width="3" height="3" fill="#00ff00"/>
<rect x="392" y="437" width="3" height="4" fill="#00ff00"/>
<rect x="396" y="437" width="3" height="4" fill="#00ff00"/>
<rect x="400" y="439" width="3" height="2" fill="#00ff00"/>
<rect x="404" y="440" width="3" height="1" fill="#00ff00"/>
<rect x="408" y="441" width="3" height="2" fill="#00ff00"/>
<rect x="412" y="441" width="3" height="4" fill="#00ff00"/>
<rect x="416" y="441" width="3" height="5" fill="#00ff00"/>
<rect x="420" y="441" width="3" height="6" fill="#00ff00"/>
<rect x="424" y="441" width="3" height="8" fill="#00ff00"/>
<rect x="428" y="441" width="3" height="9" fill="#00ff00"/>
<rect x="432" y="441" width="3" height="11" fill="#00ff00"/>
<rect x="436" y="441" width="3" height="12" fill="#00ff00"/>
<rect x="440" y="441" width="3" height="13" fill="#00ff00"/>
<rect x="444" y="441" width="3" height="13" fill="#00ff00"/>
<rect x="448" y="441" width="3" height="13" fill="#00ff00"/>
<rect x="452" y="441" width="3" height="13" fill="#00ff00"/>
<rect x="456" y="441" width="3" height="13" fill="#00ff00"/>
<rect x="460" y="441" width="3" height="12" fill="#00ff00"/>
<rect x="464" y="441" width="3" height="12" fill="#00ff00"/>
<rect x="468" y="441" width="3" height="12" fill="#00ff00"/>
<rect x="472" y="441" width="3" height="10" fill="#00ff00"/>
<rect x="476" y="441" width="3" height="8" fill="#00ff00"/>
<rect x="480" y="441" width="3" height="7" fill="#00ff00"/>
<rect x="484" y="441" width="3" height="6" fill="#00ff00"/>
<rect x="488" y="441" width="3" height="4" fill="#00ff00"/>
<rect x="492" y="441" width="3" height="3" fill="#00ff00"/>
<rect x="496" y="441" width="3" height="3" fill="#00ff00"/>
<rect x="500" y="441" width="3" height="2" fill="#00ff00"/>
<rect x="504" y="441" width="3" height="1" fill="#00ff00"/>
<rect x="508" y="441" width="3" height="1" fill="#00ff00"/>
<rect x="512" y="441" width="3" height="1" fill="#00ff00"/>
<rect x="516" y="441" width="3" height="1" fill="#00ff00"/>
<rect x="520" y="441" width="3" height="2" fill="#00ff00"/>
<rect x="524" y="441" width="3" height="1" fill="#00ff00"/>
<rect x="528" y="440" width="3" height="1" fill="#00ff00"/>
<rect x="532" y="438" width="3" height="3" fill="#00ff00"/>
<rect x="536" y="436" width="3" height="5" fill="#00ff00"/>
<rect x="540" y="434" width="3" height="7" fill="#00ff00"/>
<rect x="544" y="432" width="3" height="9" fill="#00ff00"/>
<rect x="548" y="430" width="3" height="11" fill="#00ff00"/>
<rect x="552" y="429" width="3" height="12" fill="#00ff00"/>
<rect x="556" y="428" width="3" height="13" fill="#00ff00"/>
<rect x="560" y="427" width="3" height="14" fill="#00ff00"/>
<rect x="564" y="427" width="3" height="14" fill="#00ff00"/>
<rect x="568" y="428" width="3" height="13" fill="#00ff00"/>
<rect x="572" y="428" width="3" height="13" fill="#00ff00"/>
<rect x="576" y="427" width="3" height="14" fill="#00ff00"/>
<rect x="580" y="426" width="3" height="15" fill="#00ff00"/>
<rect x="584" y="424" width="3" height="17" fill="#00ff00"/>
<rect x="588" y="422" width="3" height="19" fill="#00ff00"/>
<rect x="592" y="422" width="3" height="19" fill="#00ff00"/>
<rect x="596" y="421" width="3" height="20" fill="#00ff00"/>
<rect x="600" y="422" width="3" height="19" fill="#00ff00"/>
<rect x="604" y="424" width="3" height="17" fill="#00ff00"/>
<rect x="608" y="426" width="3" height="15" fill="#00ff00"/>
<rect x="612" y="429" width="3" height="12" fill="#00ff00"/>
<rect x="616" y="430" width="3" height="11" fill="#00ff00"/>
<rect x="620" y="432" width="3" height="9" fill="#00ff00"/>
<rect x="624" y="433" width="3" height="8" fill="#00ff00"/>
<rect x="628" y="434" width="3" height="7" fill="#00ff00"/>
<rect x="632" y="436" width="3" height="5" fill="#00ff00"/>
<rect x="636" y="437" width="3" height="4" fill="#00ff00"/>
<rect x="640" y="438" width="3" height="3" fill="#00ff00"/>
<rect x="644" y="439" width="3" height="2" fill="#00ff00"/>
<rect x="648" y="441" width="3" height="1" fill="#00ff00"/>
<rect x="652" y="441" width="3" height="2" fill="#00ff00"/>
<rect x="656" y="441" width="3" height="4" fill="#00ff00"/>
<rect x="660" y="441" width="3" height="6" fill="#00ff00"/>
<rect x="664" y="441" width="3" height="7" fill="#00ff00"/>
<rect x="668" y="441" width="3" height="9" fill="#00ff00"/>
<rect x="672" y="441" width="3" height="11" fill="#00ff00"/>
<rect x="676" y="441" width="3" height="12" fill="#00ff00"/>
<rect x="680" y="441" width="3" height="13" fill="#00ff00"/>
<rect x="684" y="441" width="3" height="14" fill="#00ff00"/>
<rect x="688" y="441" width="3" height="14" fill="#00ff00"/>
<rect x="692" y="441" width="3" height="12" fill="#00ff00"/>
<rect x="696" y="441" width="3" height="9" fill="#00ff00"/>
<rect x="700" y="441" width="3" height="6" fill="#00ff00"/>
<rect x="704" y="441" width="3" height="2" fill="#00ff00"/>
<rect x="708" y="439" width="3" height="2" fill="#00ff00"/>
<rect x="712" y="437" width="3" height="4" fill="#00ff00"/>
<rect x="716" y="435" width="3" height="6" fill="#00ff00"/>
<rect x="720" y="431" width="3" height="10" fill="#00ff00"/>
<rect x="724" y="429" width="3" height="12" fill="#00ff00"/>
<rect x="728" y="428" width="3" height="13" fill="#00ff00"/>
<rect x="732" y="428" width="3" height="13" fill="#00ff00"/>
<rect x="736" y="428" width="3" height="13" fill="#00ff00"/>
<rect x="740" y="427" width="3" height="14" fill="#00ff00"/>
<rect x="744" y="428" width="3" height="13" fill="#00ff00"/>
<rect x="748" y="429" width="3" height="12" fill="#00ff00"/>
<rect x="752" y="431" width="3" height="10" fill="#00ff00"/>
<rect x="756" y="432" width="3" height="9" fill="#00ff00"/>
<rect x="760" y="433" width="3" height="8" fill="#00ff00"/>
<rect x="764" y="434" width="3" height="7" fill="#00ff00"/>
<rect x="768" y="435" width="3" height="6" fill="#00ff00"/>
<rect x="772" y="435" width="3" height="6" fill="#00ff00"/>
<rect x="776" y="436" width="3" height="5" fill="#00ff00"/>
<rect x="780" y="434" width="3" height="7" fill="#00ff00"/>
<rect x="784" y="433" width="3" height="8" fill="#00ff00"/>
<rect x="788" y="433" width="3" height="8" fill="#00ff00"/>
<rect x="792" y="433" width="3" height="8" fill="#00ff00"/>
<rect x="796" y="433" width="3" height="8" fill="#00ff00"/>
<rect x="800" y="433" width="3" height="8" fill="#00ff00"/>
<rect x="804" y="432" width="3" height="9" fill="#00ff00"/>
<rect x="808" y="432" width="3" height="9" fill="#00ff00"/>
<rect x="812" y="430" width="3" height="11" fill="#00ff00"/>
<rect x="816" y="430" width="3" height="11" fill="#00ff00"/>
<rect x="820" y="431" width="3" height="10" fill="#00ff00"/>
<rect x="824" y="432" width="3" height="9" fill="#00ff00"/>
<rect x="828" y="435" width="3" height="6" fill="#00ff00"/>
<rect x="832" y="437" width="3" height="4" fill="#00ff00"/>
<rect x="836" y="438" width="3" height="3" fill="#00ff00"/>
<rect x="840" y="439" width="3" height="2" fill="#00ff00"/>
<rect x="844" y="440" width="3" height="1" fill="#00ff00"/>
<rect x="848" y="441" width="3" height="1" fill="#00ff00"/>
<rect x="852" y="441" width="3" height="1" fill="#00ff00"/>
<rect x="856" y="441" width="3" height="3" fill="#00ff00"/>
<rect x="860" y="441" width="3" height="4" fill="#00ff00"/>
<rect x="864" y="441" width="3" height="5" fill="#00ff00"/>
<rect x="868" y="441" width="3" height="6" fill="#00ff00"/>
<rect x="872" y="441" width="3" height="6" fill="#00ff00"/>
<rect x="876" y="441" width="3" height="5" fill="#00ff00"/>
<rect x="880" y="441" width="3" height="5" fill="#00ff00"/>
<rect x="884" y="441" width="3" height="4" fill="#00ff00"/>
<rect x="888" y="441" width="3" height="3" fill="#00ff00"/>
<rect x="892" y="441" width="3" height="1" fill="#00ff00"/>
<rect x="896" y="441" width="3" height="2" fill="#00ff00"/>
<rect x="900" y="441" width="3" height="2" fill="#00ff00"/>
<rect x="904" y="441" width="3" height="3" fill="#00ff00"/>
<rect x="908" y="441" width="3" height="5" fill="#00ff00"/>
<rect x="912" y="441" width="3" height="6" fill="#00ff00"/>
<rect x="916" y="441" width="3" height="6" fill="#00ff00"/>
<rect x="920" y="441" width="3" height="5" fill="#00ff00"/>
<rect x="924" y="441" width="3" height="4" fill="#00ff00"/>
</g>
<path d="M4 434h1v2h-1zM5 434h1v2h-1zM6 434h1v2h-1zM7 434h1v2h-1zM8 433h1v2h-1zM9 433h1v2h-1zM10 433h1v2h-1zM11 433h1v2h-1zM12 432h1v2h-1zM13 432h1v2h-1zM14 432h1v2h-1zM15 432h1v2h-1zM16 431h1v2h-1zM17 431h1v2h-1zM18 431h1v2h-1zM19 431h1v2h-1zM20 430h1v2h-1zM21 430h1v2h-1zM22 430h1v2h-1zM23 430h1v2h-1zM24 429h1v2h-1zM25 429h1v2h-1zM26 429h1v2h-1zM27 429h1v2h-1zM28 428h1v3h-1zM29 428h1v3h-1zM30 428h1v2h-1zM31 428h1v2h-1zM32 427h1v3h-1zM33 427h1v3h-1zM34 427h1v2h-1zM35 427h1v2h-1zM36 427h1v2h-1zM37 427h1v2h-1zM38 426h1v2h-1zM39 426h1v2h-1zM40 426h1v2h-1zM41 426h1v2h-1zM42 425h1v3h-1zM43 425h1v3h-1zM44 425h1v2h-1zM45 425h1v2h-1zM46 425h1v2h-1zM47 425h1v2h-1zM48 425h1v2h-1zM49 425h1v2h-1zM50 424h1v2h-1zM51 424h1v2h-1zM52 424h1v2h-1zM53 424h1v2h-1zM54 424h1v2h-1zM55 424h1v2h-1zM56 423h1v3h-1zM57 423h1v3h-1zM58 423h1v3h-1zM59 423h1v3h-1zM60 424h1v2h-1zM61 424h1v2h-1zM62 424h1v2h-1zM63 424h1v2h-1zM64 424h1v2h-1zM65 424h1v2h-1zM66 424h1v2h-1zM67 424h1v2h-1zM68 424h1v2h-1zM69 424h1v2h-1zM70 425h1v2h-1zM71 425h1v2h-1zM72 425h1v2h-1zM73 425h1v2h-1zM74 425h1v3h-1zM75 425h1v3h-1zM76 426h1v2h-1zM77 426h1v2h-1zM78 426h1v2h-1zM79 426h1v2h-1zM80 427h1v2h-1zM81 427h1v2h-1zM82 427h1v2h-1zM83 427h1v2h-1zM84 428h1v2h-1zM85 428h1v2h-1zM86 428h1v2h-1zM87 428h1v2h-1zM88 428h1v2h-1zM89 428h1v2h-1zM90 429h1v2h-1zM91 429h1v2h-1zM92 429h1v2h-1zM93 429h1v2h-1zM94 429h1v2h-1zM95 429h1v2h-1zM96 429h1v2h-1zM97 429h1v2h-1zM98 429h1v2h-1zM99 429h1v2h-1zM100 429h1v2h-1zM101 429h1v2h-1zM102 429h1v2h-1zM103 429h1v2h-1zM104 429h1v2h-1zM105 429h1v2h-1zM106 429h1v2h-1zM107 429h1v2h-1zM108 428h1v2h-1zM109 428h1v2h-1zM110 428h1v2h-1zM111 428h1v2h-1zM112 428h1v2h-1zM113 428h1v2h-1zM114 428h1v2h-1zM115 428h1v2h-1zM116 427h1v3h-1zM117 427h1v3h-1zM118 427h1v2h-1zM119 427h1v2h-1zM120 428h1v2h-1zM121 428h1v2h-1zM122 428h1v2h-1zM123 428h1v2h-1zM124 428h1v2h-1zM125 428h1v2h-1zM126 428h1v2h-1zM127 428h1v2h-1zM128 428h1v2h-1zM129 428h1v2h-1zM130 428h1v2h-1zM131 428h1v2h-1zM132 428h1v3h-1zM133 428h1v3h-1zM134 429h1v2h-1zM135 429h1v2h-1zM136 429h1v2h-1zM137 429h1v2h-1zM138 430h1v2h-1zM139 430h1v2h-1zM140 430h1v2h-1zM141 430h1v2h-1zM142 431h1v2h-1zM143 431h1v2h-1zM144 431h1v3h-1zM145 431h1v3h-1zM146 432h1v3h-1zM147 432h1v3h-1zM148 433h1v2h-1zM149 433h1v2h-1zM150 434h1v2h-1zM151 434h1v2h-1zM152 434h1v3h-1zM153 434h1v3h-1zM154 435h1v3h-1zM155 435h1v3h-1zM156 436h1v2h-1zM157 436h1v2h-1zM158 437h1v2h-1zM159 437h1v2h-1zM160 437h1v2h-1zM161 437h1v2h-1zM162 438h1v2h-1zM163 438h1v2h-1zM164 438h1v3h-1zM165 438h1v3h-1zM166 439h1v2h-1zM167 439h1v2h-1zM168 440h1v2h-1zM169 440h1v2h-1zM170 440h1v2h-1zM171 440h1v2h-1zM172 441h1v2h-1zM173 441h1v2h-1zM174 441h1v3h-1zM175 441h1v3h-1zM176 442h1v2h-1zM177 442h1v2h-1zM178 442h1v3h-1zM179 442h1v3h-1zM180 443h1v2h-1zM181 443h1v2h-1zM182 443h1v3h-1zM183 443h1v3h-1zM184 444h1v2h-1zM185 444h1v2h-1zM186 444h1v3h-1zM187 444h1v3h-1zM188 445h1v2h-1zM189 445h1v2h-1zM190 446h1v2h-1zM191 446h1v2h-1zM192 446h1v2h-1zM193 446h1v2h-1zM194 447h1v2h-1zM195 447h1v2h-1zM196 447h1v3h-1zM197 447h1v3h-1zM198 448h1v2h-1zM199 448h1v2h-1zM200 449h1v2h-1zM201 449h1v2h-1zM202 449h1v3h-1zM203 449h1v3h-1zM204 450h1v2h-1zM205 450h1v2h-1zM206 450h1v3h-1zM207 450h1v3h-1zM208 451h1v2h-1zM209 451h1v2h-1zM210 451h1v3h-1zM211 451h1v3h-1zM212 452h1v2h-1zM213 452h1v2h-1zM214 452h1v3h-1zM215 452h1v3h-1zM216 453h1v2h-1zM217 453h1v2h-1zM218 453h1v2h-1zM219 453h1v2h-1zM220 453h1v2h-1zM221 453h1v2h-1zM222 453h1v2h-1zM223 453h1v2h-1zM224 453h1v2h-1zM225 453h1v2h-1zM226 453h1v2h-1zM227 453h1v2h-1zM228 453h1v2h-1zM229 453h1v2h-1zM230 452h1v2h-1zM231 452h1v2h-1zM232 452h1v2h-1zM233 452h1v2h-1zM234 451h1v3h-1zM235 451h1v3h-1zM236 451h1v2h-1zM237 451h1v2h-1zM238 450h1v3h-1zM239 450h1v3h-1zM240 449h1v3h-1zM241 449h1v3h-1zM242 449h1v2h-1zM243 449h1v2h-1zM244 448h1v2h-1zM245 448h1v2h-1zM246 447h1v2h-1zM247 447h1v2h-1zM248 446h1v2h-1zM249 446h1v2h-1zM250 445h1v3h-1zM251 445h1v3h-1zM252 444h1v3h-1zM253 444h1v3h-1zM254 443h1v3h-1zM255 443h1v3h-1zM256 443h1v2h-1zM257 443h1v2h-1zM258 442h1v2h-1zM259 442h1v2h-1zM260 441h1v3h-1zM261 441h1v3h-1zM262 441h1v2h-1zM263 441h1v2h-1zM264 440h1v2h-1zM265 440h1v2h-1zM266 439h1v3h-1zM267 439h1v3h-1zM268 439h1v2h-1zM269 439h1v2h-1zM270 438h1v2h-1zM271 438h1v2h-1zM272 438h1v2h-1zM273 438h1v2h-1zM274 438h1v2h-1zM275 438h1v2h-1zM276 437h1v3h-1zM277 437h1v3h-1zM278 437h1v2h-1zM279 437h1v2h-1zM280 437h1v2h-1zM281 437h1v2h-1zM282 437h1v2h-1zM283 437h1v2h-1zM284 437h1v2h-1zM285 437h1v2h-1zM286 437h1v2h-1zM287 437h1v2h-1zM288 437h1v2h-1zM289 437h1v2h-1zM290 437h1v2h-1zM291 437h1v2h-1zM292 437h1v2h-1zM293 437h1v2h-1zM294 437h1v2h-1zM295 437h1v2h-1zM296 437h1v2h-1zM297 437h1v2h-1zM298 437h1v2h-1zM299 437h1v2h-1zM300 437h1v2h-1zM301 437h1v2h-1zM302 437h1v2h-1zM303 437h1v2h-1zM304 437h1v2h-1zM305 437h1v2h-1zM306 437h1v2h-1zM307 437h1v2h-1zM308 437h1v2h-1zM309 437h1v2h-1zM310 437h1v2h-1zM311 437h1v2h-1zM312 437h1v2h-1zM313 437h1v2h-1zM314 437h1v2h-1zM315 437h1v2h-1zM316 437h1v2h-1zM317 437h1v2h-1zM318 437h1v2h-1zM319 437h1v2h-1zM320 437h1v2h-1zM321 437h1v2h-1zM322 437h1v2h-1zM323 437h1v2h-1zM324 437h1v2h-1zM325 437h1v2h-1zM326 437h1v2h-1zM327 437h1v2h-1zM328 437h1v2h-1zM329 437h1v2h-1zM330 437h1v2h-1zM331 437h1v2h-1zM332 436h1v2h-1zM333 436h1v2h-1zM334 436h1v2h-1zM335 436h1v2h-1zM336 436h1v2h-1zM337 436h1v2h-1zM338 436h1v2h-1zM339 436h1v2h-1zM340 436h1v2h-1zM341 436h1v2h-1zM342 436h1v2h-1zM343 436h1v2h-1zM344 436h1v2h-1zM345 436h1v2h-1zM346 436h1v3h-1zM347 436h1v3h-1zM348 437h1v2h-1zM349 437h1v2h-1zM350 437h1v2h-1zM351 437h1v2h-1zM352 437h1v2h-1zM353 437h1v2h-1zM354 437h1v2h-1zM355 437h1v2h-1zM356 437h1v2h-1zM357 437h1v2h-1zM358 438h1v2h-1zM359 438h1v2h-1zM360 438h1v2h-1zM361 438h1v2h-1zM362 438h1v2h-1zM363 438h1v2h-1zM364 438h1v2h-1zM365 438h1v2h-1zM366 438h1v2h-1zM367 438h1v2h-1zM368 439h1v2h-1zM369 439h1v2h-1zM370 439h1v2h-1zM371 439h1v2h-1zM372 439h1v2h-1zM373 439h1v2h-1zM374 439h1v2h-1zM375 439h1v2h-1zM376 439h1v2h-1zM377 439h1v2h-1zM378 438h1v3h-1zM379 438h1v3h-1zM380 438h1v2h-1zM381 438h1v2h-1zM382 438h1v2h-1zM383 438h1v2h-1zM384 438h1v2h-1zM385 438h1v2h-1zM386 438h1v2h-1zM387 438h1v2h-1zM388 438h1v2h-1zM389 438h1v2h-1zM390 438h1v2h-1zM391 438h1v2h-1zM392 438h1v2h-1zM393 438h1v2h-1zM394 437h1v2h-1zM395 437h1v2h-1zM396 437h1v2h-1zM397 437h1v2h-1zM398 437h1v2h-1zM399 437h1v2h-1zM400 437h1v2h-1zM401 437h1v2h-1zM402 437h1v2h-1zM403 437h1v2h-1zM404 437h1v2h-1zM405 437h1v2h-1zM406 437h1v3h-1zM407 437h1v3h-1zM408 438h1v2h-1zM409 438h1v2h-1zM410 438h1v2h-1zM411 438h1v2h-1zM412 439h1v2h-1zM413 439h1v2h-1zM414 439h1v2h-1zM415 439h1v2h-1zM416 440h1v2h-1zM417 440h1v2h-1zM418 440h1v2h-1zM419 440h1v2h-1zM420 441h1v2h-1zM421 441h1v2h-1zM422 441h1v3h-1zM423 441h1v3h-1zM424 442h1v2h-1zM425 442h1v2h-1zM426 443h1v2h-1zM427 443h1v2h-1zM428 443h1v3h-1zM429 443h1v3h-1zM430 444h1v3h-1zM431 444h1v3h-1zM432 445h1v2h-1zM433 445h1v2h-1zM434 446h1v2h-1zM435 446h1v2h-1zM436 447h1v2h-1zM437 447h1v2h-1zM438 447h1v3h-1zM439 447h1v3h-1zM440 448h1v2h-1zM441 448h1v2h-1zM442 449h1v2h-1zM443 449h1v2h-1zM444 449h1v3h-1zM445 449h1v3h-1zM446 450h1v2h-1zM447 450h1v2h-1zM448 450h1v3h-1zM449 450h1v3h-1zM450 451h1v2h-1zM451 451h1v2h-1zM452 451h1v2h-1zM453 451h1v2h-1zM454 452h1v2h-1zM455 452h1v2h-1zM456 452h1v2h-1zM457 452h1v2h-1zM458 452h1v2h-1zM459 452h1v2h-1zM460 453h1v2h-1zM461 453h1v2h-1zM462 453h1v2h-1zM463 453h1v2h-1zM464 453h1v2h-1zM465 453h1v2h-1zM466 453h1v2h-1zM467 453h1v2h-1zM468 453h1v2h-1zM469 453h1v2h-1zM470 453h1v2h-1zM471 453h1v2h-1zM472 453h1v2h-1zM473 453h1v2h-1zM474 453h1v2h-1zM475 453h1v2h-1zM476 452h1v2h-1zM477 452h1v2h-1zM478 452h1v2h-1zM479 452h1v2h-1zM480 452h1v2h-1zM481 452h1v2h-1zM482 451h1v2h-1zM483 451h1v2h-1zM484 451h1v2h-1zM485 451h1v2h-1zM486 450h1v3h-1zM487 450h1v3h-1zM488 450h1v2h-1zM489 450h1v2h-1zM490 449h1v3h-1zM491 449h1v3h-1zM492 449h1v2h-1zM493 449h1v2h-1zM494 448h1v3h-1zM495 448h1v3h-1zM496 448h1v2h-1zM497 448h1v2h-1zM498 447h1v2h-1zM499 447h1v2h-1zM500 447h1v2h-1zM501 447h1v2h-1zM502 446h1v2h-1zM503 446h1v2h-1zM504 445h1v3h-1zM505 445h1v3h-1zM506 445h1v2h-1zM507 445h1v2h-1zM508 444h1v3h-1zM509 444h1v3h-1zM510 444h1v2h-1zM511 444h1v2h-1zM512 443h1v3h-1zM513 443h1v3h-1zM514 443h1v2h-1zM515 443h1v2h-1zM516 443h1v2h-1zM517 443h1v2h-1zM518 442h1v3h-1zM519 442h1v3h-1zM520 442h1v2h-1zM521 442h1v2h-1zM522 442h1v2h-1zM523 442h1v2h-1zM524 442h1v2h-1zM525 442h1v2h-1zM526 442h1v2h-1zM527 442h1v2h-1zM528 441h1v3h-1zM529 441h1v3h-1zM530 441h1v2h-1zM531 441h1v2h-1zM532 441h1v2h-1zM533 441h1v2h-1zM534 440h1v3h-1zM535 440h1v3h-1zM536 440h1v2h-1zM537 440h1v2h-1zM538 440h1v2h-1zM539 440h1v2h-1zM540 439h1v2h-1zM541 439h1v2h-1zM542 439h1v2h-1zM543 439h1v2h-1zM544 438h1v2h-1zM545 438h1v2h-1zM546 437h1v3h-1zM547 437h1v3h-1zM548 437h1v2h-1zM549 437h1v2h-1zM550 436h1v2h-1zM551 436h1v2h-1zM552 435h1v3h-1zM553 435h1v3h-1zM554 435h1v2h-1zM555 435h1v2h-1zM556 434h1v2h-1zM557 434h1v2h-1zM558 433h1v2h-1zM559 433h1v2h-1zM560 432h1v3h-1zM561 432h1v3h-1zM562 431h1v3h-1zM563 431h1v3h-1zM564 431h1v2h-1zM565 431h1v2h-1zM566 430h1v2h-1zM567 430h1v2h-1zM568 430h1v2h-1zM569 430h1v2h-1zM570 429h1v2h-1zM571 429h1v2h-1zM572 429h1v2h-1zM573 429h1v2h-1zM574 428h1v2h-1zM575 428h1v2h-1zM576 428h1v2h-1zM577 428h1v2h-1zM578 428h1v2h-1zM579 428h1v2h-1zM580 427h1v2h-1zM581 427h1v2h-1zM582 427h1v2h-1zM583 427h1v2h-1zM584 427h1v2h-1zM585 427h1v2h-1zM586 426h1v2h-1zM587 426h1v2h-1zM588 426h1v2h-1zM589 426h1v2h-1zM590 426h1v2h-1zM591 426h1v2h-1zM592 425h1v2h-1zM593 425h1v2h-1zM594 425h1v2h-1zM595 425h1v2h-1zM596 425h1v2h-1zM597 425h1v2h-1zM598 424h1v2h-1zM599 424h1v2h-1zM600 424h1v2h-1zM601 424h1v2h-1zM602 424h1v2h-1zM603 424h1v2h-1zM604 424h1v2h-1zM605 424h1v2h-1zM606 423h1v2h-1zM607 423h1v2h-1zM608 423h1v2h-1zM609 423h1v2h-1zM610 423h1v2h-1zM611 423h1v2h-1zM612 423h1v2h-1zM613 423h1v2h-1zM614 424h1v2h-1zM615 424h1v2h-1zM616 424h1v2h-1zM617 424h1v2h-1zM618 424h1v2h-1zM619 424h1v2h-1zM620 425h1v2h-1zM621 425h1v2h-1zM622 425h1v2h-1zM623 425h1v2h-1zM624 426h1v2h-1zM625 426h1v2h-1zM626 426h1v3h-1zM627 426h1v3h-1zM628 427h1v2h-1zM629 427h1v2h-1zM630 428h1v2h-1zM631 428h1v2h-1zM632 429h1v2h-1zM633 429h1v2h-1zM634 429h1v3h-1zM635 429h1v3h-1zM636 430h1v3h-1zM637 430h1v3h-1zM638 431h1v2h-1zM639 431h1v2h-1zM640 432h1v2h-1zM641 432h1v2h-1zM642 433h1v2h-1zM643 433h1v2h-1zM644 433h1v3h-1zM645 433h1v3h-1zM646 434h1v2h-1zM647 434h1v2h-1zM648 435h1v2h-1zM649 435h1v2h-1zM650 435h1v3h-1zM651 435h1v3h-1zM652 436h1v3h-1zM653 436h1v3h-1zM654 437h1v2h-1zM655 437h1v2h-1zM656 438h1v2h-1zM657 438h1v2h-1zM658 438h1v3h-1zM659 438h1v3h-1zM660 439h1v3h-1zM661 439h1v3h-1zM662 440h1v2h-1zM663 440h1v2h-1zM664 441h1v2h-1zM665 441h1v2h-1zM666 441h1v3h-1zM667 441h1v3h-1zM668 442h1v3h-1zM669 442h1v3h-1zM670 443h1v3h-1zM671 443h1v3h-1zM672 444h1v2h-1zM673 444h1v2h-1zM674 445h1v2h-1zM675 445h1v2h-1zM676 446h1v2h-1zM677 446h1v2h-1zM678 446h1v3h-1zM679 446h1v3h-1zM680 447h1v3h-1zM681 447h1v3h-1zM682 448h1v2h-1zM683 448h1v2h-1zM684 449h1v2h-1zM685 449h1v2h-1zM686 449h1v3h-1zM687 449h1v3h-1zM688 450h1v3h-1zM689 450h1v3h-1zM690 451h1v2h-1zM691 451h1v2h-1zM692 451h1v2h-1zM693 451h1v2h-1zM694 452h1v2h-1zM695 452h1v2h-1zM696 452h1v2h-1zM697 452h1v2h-1zM698 452h1v2h-1zM699 452h1v2h-1zM700 452h1v2h-1zM701 452h1v2h-1zM702 451h1v3h-1zM703 451h1v3h-1zM704 451h1v2h-1zM705 451h1v2h-1zM706 450h1v3h-1zM707 450h1v3h-1zM708 450h1v2h-1zM709 450h1v2h-1zM710 449h1v2h-1zM711 449h1v2h-1zM712 448h1v2h-1zM713 448h1v2h-1zM714 447h1v2h-1zM715 447h1v2h-1zM716 446h1v2h-1zM717 446h1v2h-1zM718 444h1v3h-1zM719 444h1v3h-1zM720 443h1v3h-1zM721 443h1v3h-1zM722 442h1v2h-1zM723 442h1v2h-1zM724 440h1v3h-1zM725 440h1v3h-1zM726 439h1v2h-1zM727 439h1v2h-1zM728 437h1v3h-1zM729 437h1v3h-1zM730 436h1v3h-1zM731 436h1v3h-1zM732 435h1v3h-1zM733 435h1v3h-1zM734 434h1v2h-1zM735 434h1v2h-1zM736 433h1v2h-1zM737 433h1v2h-1zM738 432h1v2h-1zM739 432h1v2h-1zM740 431h1v2h-1zM741 431h1v2h-1zM742 430h1v3h-1zM743 430h1v3h-1zM744 430h1v2h-1zM745 430h1v2h-1zM746 429h1v2h-1zM747 429h1v2h-1zM748 429h1v2h-1zM749 429h1v2h-1zM750 429h1v2h-1zM751 429h1v2h-1zM752 428h1v2h-1zM753 428h1v2h-1zM754 428h1v2h-1zM755 428h1v2h-1zM756 428h1v2h-1zM757 428h1v2h-1zM758 429h1v2h-1zM759 429h1v2h-1zM760 429h1v2h-1zM761 429h1v2h-1zM762 429h1v2h-1zM763 429h1v2h-1zM764 429h1v3h-1zM765 429h1v3h-1zM766 430h1v2h-1zM767 430h1v2h-1zM768 430h1v2h-1zM769 430h1v2h-1zM770 430h1v3h-1zM771 430h1v3h-1zM772 431h1v2h-1zM773 431h1v2h-1zM774 431h1v3h-1zM775 431h1v3h-1zM776 432h1v2h-1zM777 432h1v2h-1zM778 432h1v2h-1zM779 432h1v2h-1zM780 433h1v2h-1zM781 433h1v2h-1zM782 433h1v2h-1zM783 433h1v2h-1zM784 433h1v2h-1zM785 433h1v2h-1zM786 433h1v2h-1zM787 433h1v2h-1zM788 433h1v2h-1zM789 433h1v2h-1zM790 433h1v2h-1zM791 433h1v2h-1zM792 433h1v2h-1zM793 433h1v2h-1zM794 433h1v2h-1zM795 433h1v2h-1zM796 433h1v2h-1zM797 433h1v2h-1zM798 433h1v2h-1zM799 433h1v2h-1zM800 433h1v2h-1zM801 433h1v2h-1zM802 433h1v2h-1zM803 433h1v2h-1zM804 433h1v2h-1zM805 433h1v2h-1zM806 433h1v2h-1zM807 433h1v2h-1zM808 433h1v2h-1zM809 433h1v2h-1zM810 432h1v2h-1zM811 432h1v2h-1zM812 432h1v2h-1zM813 432h1v2h-1zM814 432h1v2h-1zM815 432h1v2h-1zM816 432h1v2h-1zM817 432h1v2h-1zM818 432h1v2h-1zM819 432h1v2h-1zM820 431h1v2h-1zM821 431h1v2h-1zM822 431h1v2h-1zM823 431h1v2h-1zM824 431h1v2h-1zM825 431h1v2h-1zM826 431h1v3h-1zM827 431h1v3h-1zM828 432h1v2h-1zM829 432h1v2h-1zM830 432h1v2h-1zM831 432h1v2h-1zM832 432h1v2h-1zM833 432h1v2h-1zM834 432h1v2h-1zM835 432h1v2h-1zM836 432h1v3h-1zM837 432h1v3h-1zM838 433h1v2h-1zM839 433h1v2h-1zM840 433h1v2h-1zM841 433h1v2h-1zM842 434h1v2h-1zM843 434h1v2h-1zM844 434h1v2h-1zM845 434h1v2h-1zM846 435h1v2h-1zM847 435h1v2h-1zM848 435h1v2h-1zM849 435h1v2h-1zM850 436h1v2h-1zM851 436h1v2h-1zM852 436h1v3h-1zM853 436h1v3h-1zM854 437h1v2h-1zM855 437h1v2h-1zM856 438h1v2h-1zM857 438h1v2h-1zM858 438h1v3h-1zM859 438h1v3h-1zM860 439h1v3h-1zM861 439h1v3h-1zM862 440h1v2h-1zM863 440h1v2h-1zM864 440h1v3h-1zM865 440h1v3h-1zM866 441h1v2h-1zM867 441h1v2h-1zM868 442h1v2h-1zM869 442h1v2h-1zM870 442h1v2h-1zM871 442h1v2h-1zM872 443h1v2h-1zM873 443h1v2h-1zM874 443h1v2h-1zM875 443h1v2h-1zM876 443h1v3h-1zM877 443h1v3h-1zM878 444h1v2h-1zM879 444h1v2h-1zM880 444h1v2h-1zM881 444h1v2h-1zM882 444h1v2h-1zM883 444h1v2h-1zM884 445h1v2h-1zM885 445h1v2h-1zM886 445h1v2h-1zM887 445h1v2h-1zM888 445h1v2h-1zM889 445h1v2h-1zM890 445h1v2h-1zM891 445h1v2h-1zM892 445h1v2h-1zM893 445h1v2h-1zM894 445h1v2h-1zM895 445h1v2h-1zM896 445h1v2h-1zM897 445h1v2h-1zM898 444h1v2h-1zM899 444h1v2h-1zM900 444h1v2h-1zM901 444h1v2h-1zM902 444h1v2h-1zM903 444h1v2h-1zM904 444h1v2h-1zM905 444h1v2h-1zM906 444h1v2h-1zM907 444h1v2h-1zM908 444h1v2h-1zM909 444h1v2h-1zM910 444h1v2h-1zM911 444h1v2h-1zM912 444h1v2h-1zM913 444h1v2h-1zM914 444h1v2h-1zM915 444h1v2h-1zM916 444h1v2h-1zM917 444h1v2h-1zM918 444h1v2h-1zM919 444h1v2h-1zM920 444h1v2h-1zM921 444h1v2h-1zM922 444h1v2h-1zM923 444h1v2h-1zM924 444h1v2h-1zM925 444h1v2h-1z" fill="#ff0000" shape-rendering="crispEdges"/>
<text x="9" y="430.3" font-size="9.6" fill="#000" stroke="#000" stroke-width="0.12" textLength="154" lengthAdjust="spacingAndGlyphs">MACD(12,26,9) -0.002011 -0.001828</text>
<rect x="1168" y="419" width="1" height="1" fill="#000"/>
<rect x="1168" y="441" width="1" height="1" fill="#000"/>
<rect x="1168" y="457" width="1" height="1" fill="#000"/>
<text x="1171" y="428" font-size="10.0" fill="#000" stroke="#000" stroke-width="0.12" textLength="32.5" lengthAdjust="spacingAndGlyphs">0.01052</text>
<text x="1171" y="445" font-size="10.0" fill="#000" stroke="#000" stroke-width="0.12" textLength="17.6" lengthAdjust="spacingAndGlyphs">0.00</text>
<text x="1171" y="454" font-size="10.0" fill="#000" stroke="#000" stroke-width="0.12" textLength="42" lengthAdjust="spacingAndGlyphs">-0.007744</text>
<g shape-rendering="crispEdges">
<line x1="6" y1="474.5" x2="1167" y2="474.5" stroke="#000" stroke-width="1" stroke-dasharray="3,3"/>
<line x1="6" y1="491.5" x2="1167" y2="491.5" stroke="#000" stroke-width="1" stroke-dasharray="3,3"/>
</g>
<path d="M4 475h1v2h-1zM5 475h1v2h-1zM6 474h1v2h-1zM7 474h1v2h-1zM8 474h1v2h-1zM9 474h1v2h-1zM10 474h1v2h-1zM11 474h1v2h-1zM12 475h1v2h-1zM13 475h1v2h-1zM14 475h1v2h-1zM15 475h1v2h-1zM16 475h1v2h-1zM17 475h1v2h-1zM18 475h1v2h-1zM19 475h1v2h-1zM20 475h1v2h-1zM21 475h1v2h-1zM22 474h1v3h-1zM23 474h1v3h-1zM24 473h1v3h-1zM25 473h1v3h-1zM26 474h1v2h-1zM27 474h1v2h-1zM28 475h1v3h-1zM29 475h1v3h-1zM30 475h1v3h-1zM31 475h1v3h-1zM32 475h1v2h-1zM33 475h1v2h-1zM34 475h1v2h-1zM35 475h1v2h-1zM36 474h1v3h-1zM37 474h1v3h-1zM38 474h1v2h-1zM39 474h1v2h-1zM40 474h1v2h-1zM41 474h1v2h-1zM42 474h1v2h-1zM43 474h1v2h-1zM44 474h1v2h-1zM45 474h1v2h-1zM46 473h1v3h-1zM47 473h1v3h-1zM48 473h1v2h-1zM49 473h1v2h-1zM50 473h1v3h-1zM51 473h1v3h-1zM52 474h1v2h-1zM53 474h1v2h-1zM54 475h1v3h-1zM55 475h1v3h-1zM56 476h1v3h-1zM57 476h1v3h-1zM58 478h1v4h-1zM59 478h1v4h-1zM60 481h1v3h-1zM61 481h1v3h-1zM62 482h1v2h-1zM63 482h1v2h-1zM64 482h1v2h-1zM65 482h1v2h-1zM66 481h1v2h-1zM67 481h1v2h-1zM68 480h1v2h-1zM69 480h1v2h-1zM70 480h1v2h-1zM71 480h1v2h-1zM72 479h1v2h-1zM73 479h1v2h-1zM74 479h1v2h-1zM75 479h1v2h-1zM76 480h1v2h-1zM77 480h1v2h-1zM78 478h1v3h-1zM79 478h1v3h-1zM80 477h1v3h-1zM81 477h1v3h-1zM82 476h1v3h-1zM83 476h1v3h-1zM84 476h1v2h-1zM85 476h1v2h-1zM86 476h1v2h-1zM87 476h1v2h-1zM88 477h1v2h-1zM89 477h1v2h-1zM90 478h1v2h-1zM91 478h1v2h-1zM92 479h1v2h-1zM93 479h1v2h-1zM94 478h1v3h-1zM95 478h1v3h-1zM96 477h1v2h-1zM97 477h1v2h-1zM98 477h1v2h-1zM99 477h1v2h-1zM100 476h1v2h-1zM101 476h1v2h-1zM102 476h1v2h-1zM103 476h1v2h-1zM104 476h1v2h-1zM105 476h1v2h-1zM106 476h1v2h-1zM107 476h1v2h-1zM108 476h1v2h-1zM109 476h1v2h-1zM110 477h1v3h-1zM111 477h1v3h-1zM112 478h1v3h-1zM113 478h1v3h-1zM114 479h1v3h-1zM115 479h1v3h-1zM116 480h1v2h-1zM117 480h1v2h-1zM118 480h1v3h-1zM119 480h1v3h-1zM120 481h1v2h-1zM121 481h1v2h-1zM122 481h1v2h-1zM123 481h1v2h-1zM124 481h1v2h-1zM125 481h1v2h-1zM126 481h1v2h-1zM127 481h1v2h-1zM128 482h1v2h-1zM129 482h1v2h-1zM130 481h1v3h-1zM131 481h1v3h-1zM132 481h1v2h-1zM133 481h1v2h-1zM134 481h1v2h-1zM135 481h1v2h-1zM136 482h1v2h-1zM137 482h1v2h-1zM138 482h1v3h-1zM139 482h1v3h-1zM140 483h1v3h-1zM141 483h1v3h-1zM142 485h1v2h-1zM143 485h1v2h-1zM144 486h1v3h-1zM145 486h1v3h-1zM146 487h1v2h-1zM147 487h1v2h-1zM148 486h1v2h-1zM149 486h1v2h-1zM150 484h1v3h-1zM151 484h1v3h-1zM152 483h1v3h-1zM153 483h1v3h-1zM154 483h1v2h-1zM155 483h1v2h-1zM156 484h1v2h-1zM157 484h1v2h-1zM158 483h1v3h-1zM159 483h1v3h-1zM160 482h1v3h-1zM161 482h1v3h-1zM162 482h1v3h-1zM163 482h1v3h-1zM164 483h1v2h-1zM165 483h1v2h-1zM166 484h1v3h-1zM167 484h1v3h-1zM168 485h1v3h-1zM169 485h1v3h-1zM170 486h1v2h-1zM171 486h1v2h-1zM172 486h1v2h-1zM173 486h1v2h-1zM174 485h1v2h-1zM175 485h1v2h-1zM176 485h1v2h-1zM177 485h1v2h-1zM178 485h1v3h-1zM179 485h1v3h-1zM180 487h1v2h-1zM181 487h1v2h-1zM182 488h1v2h-1zM183 488h1v2h-1zM184 489h1v2h-1zM185 489h1v2h-1zM186 489h1v2h-1zM187 489h1v2h-1zM188 489h1v2h-1zM189 489h1v2h-1zM190 488h1v2h-1zM191 488h1v2h-1zM192 487h1v2h-1zM193 487h1v2h-1zM194 487h1v2h-1zM195 487h1v2h-1zM196 487h1v2h-1zM197 487h1v2h-1zM198 487h1v2h-1zM199 487h1v2h-1zM200 488h1v2h-1zM201 488h1v2h-1zM202 488h1v2h-1zM203 488h1v2h-1zM204 488h1v2h-1zM205 488h1v2h-1zM206 488h1v2h-1zM207 488h1v2h-1zM208 488h1v2h-1zM209 488h1v2h-1zM210 488h1v2h-1zM211 488h1v2h-1zM212 488h1v2h-1zM213 488h1v2h-1zM214 486h1v3h-1zM215 486h1v3h-1zM216 485h1v2h-1zM217 485h1v2h-1zM218 485h1v2h-1zM219 485h1v2h-1zM220 485h1v2h-1zM221 485h1v2h-1zM222 484h1v2h-1zM223 484h1v2h-1zM224 482h1v3h-1zM225 482h1v3h-1zM226 482h1v2h-1zM227 482h1v2h-1zM228 483h1v2h-1zM229 483h1v2h-1zM230 482h1v2h-1zM231 482h1v2h-1zM232 481h1v3h-1zM233 481h1v3h-1zM234 480h1v2h-1zM235 480h1v2h-1zM236 478h1v3h-1zM237 478h1v3h-1zM238 478h1v2h-1zM239 478h1v2h-1zM240 477h1v2h-1zM241 477h1v2h-1zM242 477h1v3h-1zM243 477h1v3h-1zM244 478h1v2h-1zM245 478h1v2h-1zM246 479h1v2h-1zM247 479h1v2h-1zM248 480h1v2h-1zM249 480h1v2h-1zM250 480h1v3h-1zM251 480h1v3h-1zM252 481h1v2h-1zM253 481h1v2h-1zM254 481h1v2h-1zM255 481h1v2h-1zM256 481h1v2h-1zM257 481h1v2h-1zM258 481h1v3h-1zM259 481h1v3h-1zM260 482h1v2h-1zM261 482h1v2h-1zM262 480h1v3h-1zM263 480h1v3h-1zM264 479h1v3h-1zM265 479h1v3h-1zM266 479h1v2h-1zM267 479h1v2h-1zM268 479h1v2h-1zM269 479h1v2h-1zM270 480h1v3h-1zM271 480h1v3h-1zM272 482h1v3h-1zM273 482h1v3h-1zM274 482h1v2h-1zM275 482h1v2h-1zM276 481h1v3h-1zM277 481h1v3h-1zM278 482h1v2h-1zM279 482h1v2h-1zM280 482h1v2h-1zM281 482h1v2h-1zM282 481h1v3h-1zM283 481h1v3h-1zM284 480h1v3h-1zM285 480h1v3h-1zM286 480h1v2h-1zM287 480h1v2h-1zM288 480h1v2h-1zM289 480h1v2h-1zM290 480h1v2h-1zM291 480h1v2h-1zM292 481h1v2h-1zM293 481h1v2h-1zM294 481h1v2h-1zM295 481h1v2h-1zM296 481h1v2h-1zM297 481h1v2h-1zM298 481h1v2h-1zM299 481h1v2h-1zM300 481h1v2h-1zM301 481h1v2h-1zM302 481h1v3h-1zM303 481h1v3h-1zM304 482h1v2h-1zM305 482h1v2h-1zM306 482h1v2h-1zM307 482h1v2h-1zM308 482h1v2h-1zM309 482h1v2h-1zM310 481h1v2h-1zM311 481h1v2h-1zM312 480h1v2h-1zM313 480h1v2h-1zM314 480h1v2h-1zM315 480h1v2h-1zM316 479h1v3h-1zM317 479h1v3h-1zM318 479h1v2h-1zM319 479h1v2h-1zM320 479h1v2h-1zM321 479h1v2h-1zM322 479h1v2h-1zM323 479h1v2h-1zM324 479h1v2h-1zM325 479h1v2h-1zM326 480h1v2h-1zM327 480h1v2h-1zM328 481h1v2h-1zM329 481h1v2h-1zM330 480h1v2h-1zM331 480h1v2h-1zM332 478h1v3h-1zM333 478h1v3h-1zM334 479h1v3h-1zM335 480h1v3h-1zM336 481h1v4h-1zM337 482h1v3h-1zM338 482h1v2h-1zM339 482h1v2h-1zM340 481h1v2h-1zM341 481h1v2h-1zM342 482h1v3h-1zM343 482h1v3h-1zM344 484h1v3h-1zM345 484h1v3h-1zM346 483h1v3h-1zM347 483h1v3h-1zM348 482h1v3h-1zM349 482h1v3h-1zM350 483h1v3h-1zM351 483h1v3h-1zM352 484h1v3h-1zM353 484h1v3h-1zM354 484h1v3h-1zM355 484h1v3h-1zM356 484h1v2h-1zM357 484h1v2h-1zM358 483h1v2h-1zM359 483h1v2h-1zM360 481h1v3h-1zM361 481h1v3h-1zM362 482h1v2h-1zM363 482h1v2h-1zM364 482h1v2h-1zM365 482h1v2h-1zM366 481h1v3h-1zM367 481h1v3h-1zM368 480h1v2h-1zM369 480h1v2h-1zM370 478h1v3h-1zM371 478h1v3h-1zM372 477h1v3h-1zM373 477h1v3h-1zM374 478h1v3h-1zM375 478h1v3h-1zM376 480h1v3h-1zM377 480h1v3h-1zM378 481h1v2h-1zM379 481h1v2h-1zM380 482h1v2h-1zM381 482h1v2h-1zM382 482h1v2h-1zM383 482h1v2h-1zM384 483h1v2h-1zM385 483h1v2h-1zM386 483h1v2h-1zM387 483h1v2h-1zM388 482h1v3h-1zM389 482h1v3h-1zM390 481h1v3h-1zM391 481h1v3h-1zM392 480h1v3h-1zM393 480h1v3h-1zM394 480h1v3h-1zM395 480h1v3h-1zM396 481h1v3h-1zM397 481h1v3h-1zM398 482h1v3h-1zM399 482h1v3h-1zM400 483h1v3h-1zM401 483h1v3h-1zM402 484h1v3h-1zM403 484h1v3h-1zM404 485h1v3h-1zM405 485h1v3h-1zM406 486h1v2h-1zM407 486h1v2h-1zM408 486h1v2h-1zM409 486h1v2h-1zM410 486h1v2h-1zM411 486h1v2h-1zM412 486h1v2h-1zM413 486h1v2h-1zM414 486h1v2h-1zM415 486h1v2h-1zM416 486h1v3h-1zM417 486h1v3h-1zM418 487h1v2h-1zM419 487h1v2h-1zM420 487h1v2h-1zM421 487h1v2h-1zM422 487h1v2h-1zM423 487h1v2h-1zM424 487h1v2h-1zM425 487h1v2h-1zM426 488h1v2h-1zM427 488h1v2h-1zM428 488h1v2h-1zM429 488h1v2h-1zM430 489h1v2h-1zM431 489h1v2h-1zM432 489h1v3h-1zM433 489h1v3h-1zM434 489h1v3h-1zM435 489h1v3h-1zM436 489h1v2h-1zM437 489h1v2h-1zM438 488h1v3h-1zM439 488h1v3h-1zM440 487h1v3h-1zM441 487h1v3h-1zM442 487h1v3h-1zM443 487h1v3h-1zM444 488h1v2h-1zM445 488h1v2h-1zM446 488h1v2h-1zM447 488h1v2h-1zM448 488h1v2h-1zM449 488h1v2h-1zM450 488h1v2h-1zM451 488h1v2h-1zM452 487h1v3h-1zM453 487h1v3h-1zM454 487h1v2h-1zM455 487h1v2h-1zM456 487h1v2h-1zM457 487h1v2h-1zM458 486h1v3h-1zM459 486h1v3h-1zM460 486h1v2h-1zM461 486h1v2h-1zM462 486h1v3h-1zM463 486h1v3h-1zM464 487h1v2h-1zM465 487h1v2h-1zM466 487h1v2h-1zM467 487h1v2h-1zM468 487h1v2h-1zM469 487h1v2h-1zM470 485h1v3h-1zM471 485h1v3h-1zM472 483h1v3h-1zM473 483h1v3h-1zM474 483h1v2h-1zM475 483h1v2h-1zM476 482h1v3h-1zM477 482h1v3h-1zM478 482h1v3h-1zM479 482h1v3h-1zM480 483h1v2h-1zM481 483h1v2h-1zM482 483h1v2h-1zM483 483h1v2h-1zM484 483h1v2h-1zM485 483h1v2h-1zM486 481h1v3h-1zM487 481h1v3h-1zM488 480h1v2h-1zM489 480h1v2h-1zM490 480h1v2h-1zM491 480h1v2h-1zM492 480h1v2h-1zM493 480h1v2h-1zM494 481h1v3h-1zM495 481h1v3h-1zM496 483h1v2h-1zM497 483h1v2h-1zM498 483h1v2h-1zM499 483h1v2h-1zM500 482h1v2h-1zM501 482h1v2h-1zM502 482h1v2h-1zM503 482h1v2h-1zM504 482h1v2h-1zM505 482h1v2h-1zM506 481h1v3h-1zM507 481h1v3h-1zM508 481h1v2h-1zM509 481h1v2h-1zM510 481h1v3h-1zM511 481h1v3h-1zM512 482h1v2h-1zM513 482h1v2h-1zM514 482h1v2h-1zM515 482h1v2h-1zM516 482h1v2h-1zM517 482h1v3h-1zM518 483h1v3h-1zM519 484h1v3h-1zM520 485h1v4h-1zM521 486h1v3h-1zM522 485h1v3h-1zM523 485h1v3h-1zM524 482h1v3h-1zM525 482h1v3h-1zM526 480h1v3h-1zM527 480h1v3h-1zM528 478h1v3h-1zM529 478h1v3h-1zM530 478h1v2h-1zM531 478h1v2h-1zM532 478h1v2h-1zM533 478h1v2h-1zM534 478h1v2h-1zM535 478h1v2h-1zM536 477h1v3h-1zM537 477h1v3h-1zM538 476h1v3h-1zM539 476h1v3h-1zM540 475h1v3h-1zM541 475h1v3h-1zM542 475h1v2h-1zM543 475h1v2h-1zM544 475h1v2h-1zM545 475h1v2h-1zM546 476h1v2h-1zM547 476h1v2h-1zM548 476h1v2h-1zM549 476h1v2h-1zM550 476h1v2h-1zM551 476h1v2h-1zM552 475h1v2h-1zM553 475h1v2h-1zM554 475h1v2h-1zM555 475h1v2h-1zM556 475h1v2h-1zM557 475h1v2h-1zM558 474h1v3h-1zM559 474h1v3h-1zM560 474h1v2h-1zM561 474h1v2h-1zM562 475h1v2h-1zM563 475h1v2h-1zM564 476h1v2h-1zM565 476h1v2h-1zM566 478h1v3h-1zM567 478h1v3h-1zM568 480h1v3h-1zM569 480h1v3h-1zM570 480h1v2h-1zM571 480h1v2h-1zM572 478h1v3h-1zM573 478h1v3h-1zM574 477h1v3h-1zM575 477h1v3h-1zM576 476h1v3h-1zM577 476h1v3h-1zM578 476h1v2h-1zM579 476h1v2h-1zM580 476h1v2h-1zM581 476h1v2h-1zM582 475h1v2h-1zM583 475h1v2h-1zM584 474h1v2h-1zM585 474h1v2h-1zM586 474h1v2h-1zM587 474h1v2h-1zM588 473h1v3h-1zM589 473h1v3h-1zM590 474h1v2h-1zM591 474h1v2h-1zM592 475h1v2h-1zM593 475h1v2h-1zM594 475h1v2h-1zM595 475h1v2h-1zM596 475h1v2h-1zM597 475h1v2h-1zM598 476h1v3h-1zM599 476h1v3h-1zM600 478h1v3h-1zM601 478h1v3h-1zM602 479h1v2h-1zM603 479h1v2h-1zM604 480h1v2h-1zM605 480h1v2h-1zM606 480h1v3h-1zM607 480h1v3h-1zM608 481h1v3h-1zM609 481h1v3h-1zM610 482h1v3h-1zM611 482h1v3h-1zM612 483h1v2h-1zM613 483h1v2h-1zM614 482h1v3h-1zM615 482h1v3h-1zM616 481h1v2h-1zM617 481h1v2h-1zM618 481h1v3h-1zM619 481h1v3h-1zM620 482h1v3h-1zM621 482h1v3h-1zM622 482h1v3h-1zM623 482h1v3h-1zM624 482h1v2h-1zM625 482h1v2h-1zM626 482h1v2h-1zM627 482h1v2h-1zM628 483h1v2h-1zM629 483h1v2h-1zM630 483h1v2h-1zM631 483h1v2h-1zM632 484h1v2h-1zM633 484h1v2h-1zM634 483h1v3h-1zM635 483h1v3h-1zM636 483h1v2h-1zM637 483h1v2h-1zM638 483h1v2h-1zM639 483h1v2h-1zM640 483h1v2h-1zM641 483h1v2h-1zM642 483h1v3h-1zM643 483h1v3h-1zM644 484h1v2h-1zM645 484h1v2h-1zM646 485h1v2h-1zM647 485h1v2h-1zM648 486h1v2h-1zM649 486h1v2h-1zM650 486h1v2h-1zM651 486h1v2h-1zM652 486h1v2h-1zM653 486h1v2h-1zM654 486h1v3h-1zM655 486h1v3h-1zM656 487h1v3h-1zM657 487h1v3h-1zM658 488h1v2h-1zM659 488h1v2h-1zM660 488h1v2h-1zM661 488h1v2h-1zM662 488h1v2h-1zM663 488h1v2h-1zM664 487h1v2h-1zM665 487h1v2h-1zM666 488h1v2h-1zM667 488h1v2h-1zM668 489h1v2h-1zM669 489h1v2h-1zM670 489h1v2h-1zM671 489h1v2h-1zM672 489h1v2h-1zM673 489h1v2h-1zM674 489h1v2h-1zM675 489h1v2h-1zM676 489h1v2h-1zM677 489h1v2h-1zM678 489h1v2h-1zM679 489h1v2h-1zM680 489h1v2h-1zM681 489h1v2h-1zM682 489h1v3h-1zM683 489h1v3h-1zM684 490h1v2h-1zM685 490h1v2h-1zM686 490h1v2h-1zM687 490h1v2h-1zM688 489h1v2h-1zM689 488h1v3h-1zM690 486h1v4h-1zM691 485h1v4h-1zM692 483h1v4h-1zM693 483h1v3h-1zM694 482h1v2h-1zM695 482h1v2h-1zM696 481h1v2h-1zM697 481h1v2h-1zM698 480h1v2h-1zM699 480h1v2h-1zM700 479h1v3h-1zM701 479h1v3h-1zM702 478h1v3h-1zM703 478h1v3h-1zM704 477h1v3h-1zM705 477h1v3h-1zM706 476h1v3h-1zM707 476h1v3h-1zM708 476h1v2h-1zM709 476h1v2h-1zM710 476h1v3h-1zM711 476h1v3h-1zM712 478h1v3h-1zM713 478h1v3h-1zM714 478h1v2h-1zM715 478h1v2h-1zM716 477h1v2h-1zM717 477h1v2h-1zM718 476h1v2h-1zM719 476h1v2h-1zM720 475h1v3h-1zM721 475h1v3h-1zM722 476h1v2h-1zM723 476h1v2h-1zM724 476h1v2h-1zM725 476h1v2h-1zM726 477h1v2h-1zM727 477h1v2h-1zM728 477h1v2h-1zM729 477h1v2h-1zM730 477h1v3h-1zM731 477h1v3h-1zM732 478h1v3h-1zM733 478h1v3h-1zM734 479h1v2h-1zM735 479h1v2h-1zM736 478h1v2h-1zM737 478h1v2h-1zM738 478h1v2h-1zM739 478h1v2h-1zM740 477h1v3h-1zM741 477h1v3h-1zM742 478h1v3h-1zM743 478h1v3h-1zM744 479h1v3h-1zM745 479h1v3h-1zM746 480h1v2h-1zM747 480h1v2h-1zM748 481h1v2h-1zM749 481h1v2h-1zM750 481h1v2h-1zM751 481h1v2h-1zM752 482h1v2h-1zM753 482h1v2h-1zM754 482h1v2h-1zM755 482h1v2h-1zM756 482h1v2h-1zM757 482h1v2h-1zM758 482h1v2h-1zM759 482h1v2h-1zM760 481h1v3h-1zM761 481h1v3h-1zM762 482h1v2h-1zM763 482h1v2h-1zM764 482h1v2h-1zM765 482h1v2h-1zM766 482h1v2h-1zM767 482h1v2h-1zM768 481h1v2h-1zM769 481h1v2h-1zM770 481h1v2h-1zM771 481h1v2h-1zM772 481h1v2h-1zM773 481h1v2h-1zM774 482h1v2h-1zM775 482h1v2h-1zM776 482h1v3h-1zM777 481h1v4h-1zM778 480h1v3h-1zM779 479h1v3h-1zM780 477h1v4h-1zM781 477h1v3h-1zM782 477h1v2h-1zM783 477h1v2h-1zM784 477h1v2h-1zM785 477h1v2h-1zM786 477h1v3h-1zM787 477h1v3h-1zM788 479h1v3h-1zM789 479h1v3h-1zM790 480h1v2h-1zM791 480h1v2h-1zM792 480h1v2h-1zM793 480h1v2h-1zM794 480h1v2h-1zM795 480h1v2h-1zM796 480h1v3h-1zM797 480h1v3h-1zM798 480h1v2h-1zM799 480h1v2h-1zM800 479h1v2h-1zM801 479h1v2h-1zM802 478h1v3h-1zM803 478h1v3h-1zM804 478h1v2h-1zM805 478h1v2h-1zM806 478h1v3h-1zM807 478h1v3h-1zM808 479h1v2h-1zM809 479h1v2h-1zM810 478h1v3h-1zM811 478h1v3h-1zM812 476h1v3h-1zM813 476h1v3h-1zM814 477h1v3h-1zM815 477h1v3h-1zM816 478h1v3h-1zM817 478h1v3h-1zM818 479h1v3h-1zM819 479h1v3h-1zM820 480h1v2h-1zM821 480h1v2h-1zM822 481h1v2h-1zM823 481h1v2h-1zM824 481h1v2h-1zM825 481h1v2h-1zM826 482h1v3h-1zM827 482h1v3h-1zM828 484h1v3h-1zM829 484h1v3h-1zM830 485h1v2h-1zM831 485h1v2h-1zM832 484h1v3h-1zM833 484h1v3h-1zM834 484h1v3h-1zM835 484h1v3h-1zM836 485h1v2h-1zM837 485h1v2h-1zM838 484h1v2h-1zM839 484h1v2h-1zM840 483h1v2h-1zM841 483h1v2h-1zM842 483h1v2h-1zM843 483h1v2h-1zM844 483h1v2h-1zM845 483h1v2h-1zM846 483h1v3h-1zM847 483h1v3h-1zM848 485h1v2h-1zM849 485h1v2h-1zM850 485h1v2h-1zM851 485h1v2h-1zM852 484h1v3h-1zM853 484h1v3h-1zM854 485h1v2h-1zM855 485h1v2h-1zM856 486h1v2h-1zM857 486h1v2h-1zM858 486h1v2h-1zM859 486h1v2h-1zM860 486h1v3h-1zM861 486h1v3h-1zM862 486h1v2h-1zM863 486h1v2h-1zM864 486h1v2h-1zM865 486h1v2h-1zM866 486h1v2h-1zM867 486h1v2h-1zM868 486h1v2h-1zM869 486h1v2h-1zM870 485h1v3h-1zM871 485h1v3h-1zM872 485h1v2h-1zM873 485h1v2h-1zM874 484h1v2h-1zM875 484h1v2h-1zM876 483h1v2h-1zM877 483h1v2h-1zM878 483h1v2h-1zM879 483h1v2h-1zM880 484h1v2h-1zM881 484h1v2h-1zM882 484h1v2h-1zM883 484h1v2h-1zM884 483h1v2h-1zM885 483h1v2h-1zM886 482h1v3h-1zM887 482h1v3h-1zM888 480h1v3h-1zM889 480h1v3h-1zM890 480h1v2h-1zM891 480h1v2h-1zM892 480h1v2h-1zM893 480h1v2h-1zM894 481h1v3h-1zM895 481h1v3h-1zM896 483h1v3h-1zM897 483h1v3h-1zM898 483h1v3h-1zM899 483h1v3h-1zM900 483h1v2h-1zM901 483h1v2h-1zM902 484h1v3h-1zM903 484h1v3h-1zM904 486h1v3h-1zM905 486h1v3h-1zM906 487h1v2h-1zM907 487h1v2h-1zM908 487h1v2h-1zM909 487h1v2h-1zM910 487h1v2h-1zM911 487h1v2h-1zM912 486h1v2h-1zM913 486h1v2h-1zM914 486h1v2h-1zM915 486h1v2h-1zM916 486h1v2h-1zM917 485h1v3h-1zM918 484h1v3h-1zM919 483h1v3h-1zM920 481h1v4h-1zM921 481h1v3h-1zM922 482h1v2h-1zM923 482h1v2h-1zM924 483h1v2h-1zM925 483h1v2h-1z" fill="#1e90ff" shape-rendering="crispEdges"/>
<text x="9" y="472.6" font-size="9.6" fill="#000" stroke="#000" stroke-width="0.12" textLength="67.8" lengthAdjust="spacingAndGlyphs">RSI(14) 48.4130</text>
<rect x="1168" y="462" width="1" height="1" fill="#000"/>
<rect x="1168" y="503" width="1" height="1" fill="#000"/>
<text x="1171.2" y="471" font-size="10.0" fill="#000" stroke="#000" stroke-width="0.12" textLength="14.4" lengthAdjust="spacingAndGlyphs">100</text>
<text x="1171.2" y="478" font-size="10.0" fill="#000" stroke="#000" stroke-width="0.12" textLength="8.2" lengthAdjust="spacingAndGlyphs">70</text>
<text x="1171.2" y="494.6" font-size="10.0" fill="#000" stroke="#000" stroke-width="0.12" textLength="8.4" lengthAdjust="spacingAndGlyphs">30</text>
<text x="1171.2" y="501.2" font-size="10.0" fill="#000" stroke="#000" stroke-width="0.12" textLength="4.3" lengthAdjust="spacingAndGlyphs">0</text>
<rect x="5" y="504" width="1" height="4" fill="#000"/>
<text x="4.4" y="517" font-size="9.6" fill="#000" stroke="#000" stroke-width="0.12" textLength="52.7" lengthAdjust="spacingAndGlyphs">21 Nov 2021</text>
<rect x="69" y="504" width="1" height="4" fill="#000"/>
<text x="68.4" y="517" font-size="9.6" fill="#000" stroke="#000" stroke-width="0.12" textLength="46.5" lengthAdjust="spacingAndGlyphs">9 Dec 2021</text>
<rect x="133" y="504" width="1" height="4" fill="#000"/>
<text x="132.4" y="517" font-size="9.6" fill="#000" stroke="#000" stroke-width="0.12" textLength="52.5" lengthAdjust="spacingAndGlyphs">28 Dec 2021</text>
<rect x="197" y="504" width="1" height="4" fill="#000"/>
<text x="196.4" y="517" font-size="9.6" fill="#000" stroke="#000" stroke-width="0.12" textLength="50.5" lengthAdjust="spacingAndGlyphs">16 Jan 2022</text>
<rect x="261" y="504" width="1" height="4" fill="#000"/>
<text x="260.4" y="517" font-size="9.6" fill="#000" stroke="#000" stroke-width="0.12" textLength="42.5" lengthAdjust="spacingAndGlyphs">3 Feb 2022</text>
<rect x="325" y="504" width="1" height="4" fill="#000"/>
<text x="324.4" y="517" font-size="9.6" fill="#000" stroke="#000" stroke-width="0.12" textLength="50.5" lengthAdjust="spacingAndGlyphs">22 Feb 2022</text>
<rect x="389" y="504" width="1" height="4" fill="#000"/>
<text x="388.4" y="517" font-size="9.6" fill="#000" stroke="#000" stroke-width="0.12" textLength="52.0" lengthAdjust="spacingAndGlyphs">13 Mar 2022</text>
<rect x="453" y="504" width="1" height="4" fill="#000"/>
<text x="452.4" y="517" font-size="9.6" fill="#000" stroke="#000" stroke-width="0.12" textLength="52.0" lengthAdjust="spacingAndGlyphs">31 Mar 2022</text>
<rect x="517" y="504" width="1" height="4" fill="#000"/>
<text x="516.4" y="517" font-size="9.6" fill="#000" stroke="#000" stroke-width="0.12" textLength="51.0" lengthAdjust="spacingAndGlyphs">19 Apr 2022</text>
<rect x="581" y="504" width="1" height="4" fill="#000"/>
<text x="580.4" y="517" font-size="9.6" fill="#000" stroke="#000" stroke-width="0.12" textLength="49.5" lengthAdjust="spacingAndGlyphs">8 May 2022</text>
<rect x="645" y="504" width="1" height="4" fill="#000"/>
<text x="644.4" y="517" font-size="9.6" fill="#000" stroke="#000" stroke-width="0.12" textLength="54.0" lengthAdjust="spacingAndGlyphs">26 May 2022</text>
<rect x="709" y="504" width="1" height="4" fill="#000"/>
<text x="708.4" y="517" font-size="9.6" fill="#000" stroke="#000" stroke-width="0.12" textLength="50.0" lengthAdjust="spacingAndGlyphs">14 Jun 2022</text>
<rect x="773" y="504" width="1" height="4" fill="#000"/>
<text x="772.4" y="517" font-size="9.6" fill="#000" stroke="#000" stroke-width="0.12" textLength="42.0" lengthAdjust="spacingAndGlyphs">3 Jul 2022</text>
<rect x="837" y="504" width="1" height="4" fill="#000"/>
<text x="836.4" y="517" font-size="9.6" fill="#000" stroke="#000" stroke-width="0.12" textLength="46.6" lengthAdjust="spacingAndGlyphs">21 Jul 2022</text>
<rect x="901" y="504" width="1" height="4" fill="#000"/>
<text x="900.4" y="517" font-size="9.6" fill="#000" stroke="#000" stroke-width="0.12" textLength="47.0" lengthAdjust="spacingAndGlyphs">9 Aug 2022</text>
<rect x="0" y="525" width="1210" height="1" fill="#e3e3e3"/>
<rect x="0" y="527" width="1210" height="1" fill="#000"/>
<rect x="0" y="528" width="1210" height="1" fill="#fafafa"/>
<rect x="0" y="529" width="1210" height="18" fill="#f0f0f0"/>
<rect x="0" y="547" width="1210" height="1" fill="#fafafa"/>
<rect x="0" y="548" width="1210" height="1" fill="#f0f0f0"/>
<rect x="0" y="528" width="1" height="19" fill="#a0a0a0"/>
<rect x="1" y="528" width="1" height="19" fill="#727272"/>
<rect x="331" y="527" width="106" height="18" fill="#ffffff"/>
<rect x="330" y="527" width="1" height="19" fill="#000"/>
<rect x="437" y="527" width="1" height="19" fill="#000"/>
<rect x="330" y="545" width="108" height="1" fill="#000"/>
<rect x="331" y="546" width="106" height="1" fill="#dcdcdc"/>
<text x="17.5" y="541.8" font-size="12" fill="#6d6d6d" stroke="#6d6d6d" stroke-width="0.12" textLength="84.1" lengthAdjust="spacingAndGlyphs">EURUSD-,Daily</text>
<text x="124" y="541.8" font-size="12" fill="#6d6d6d" stroke="#6d6d6d" stroke-width="0.12" textLength="86.7" lengthAdjust="spacingAndGlyphs">AUDUSD-,Daily</text>
<text x="234.9" y="541.8" font-size="12" fill="#6d6d6d" stroke="#6d6d6d" stroke-width="0.12" textLength="82.9" lengthAdjust="spacingAndGlyphs">USDCHF-,Daily</text>
<text x="341.4" y="541.8" font-size="12" fill="#000" stroke="#000" stroke-width="0.12" textLength="85.6" lengthAdjust="spacingAndGlyphs">USDCAD-,Daily</text>
<text x="450.5" y="541.8" font-size="12" fill="#6d6d6d" stroke="#6d6d6d" stroke-width="0.12" textLength="87.6" lengthAdjust="spacingAndGlyphs">USDCNH-,Daily</text>
<text x="561.2" y="541.8" font-size="12" fill="#6d6d6d" stroke="#6d6d6d" stroke-width="0.12" textLength="85.3" lengthAdjust="spacingAndGlyphs">XAUUSD-,Daily</text>
<text x="668.7" y="541.8" font-size="12" fill="#6d6d6d" stroke="#6d6d6d" stroke-width="0.12" textLength="57.2" lengthAdjust="spacingAndGlyphs">UKOil-,H4</text>
<text x="750" y="541.8" font-size="12" fill="#6d6d6d" stroke="#6d6d6d" stroke-width="0.12" textLength="67.4" lengthAdjust="spacingAndGlyphs">USOil-,Daily</text>
<text x="840" y="541.8" font-size="12" fill="#6d6d6d" stroke="#6d6d6d" stroke-width="0.12" textLength="54.8" lengthAdjust="spacingAndGlyphs">HK50-,H1</text>
<text x="916" y="541.8" font-size="12" fill="#6d6d6d" stroke="#6d6d6d" stroke-width="0.12" textLength="71" lengthAdjust="spacingAndGlyphs">EURCHF-,H1</text>
<text x="1010.2" y="541.8" font-size="12" fill="#6d6d6d" stroke="#6d6d6d" stroke-width="0.12" textLength="55.4" lengthAdjust="spacingAndGlyphs">USOil-,H4</text>
<text x="1089" y="541.8" font-size="12" fill="#6d6d6d" stroke="#6d6d6d" stroke-width="0.12" textLength="57.2" lengthAdjust="spacingAndGlyphs">UKOil-,H4</text>
<rect x="115" y="530" width="1" height="14" fill="#6d6d6d"/>
<rect x="223" y="530" width="1" height="14" fill="#6d6d6d"/>
<rect x="551" y="530" width="1" height="14" fill="#6d6d6d"/>
<rect x="658" y="530" width="1" height="14" fill="#6d6d6d"/>
<rect x="738" y="530" width="1" height="14" fill="#6d6d6d"/>
<rect x="831" y="530" width="1" height="14" fill="#6d6d6d"/>
<rect x="906" y="530" width="1" height="14" fill="#6d6d6d"/>
<rect x="999" y="530" width="1" height="14" fill="#6d6d6d"/>
<rect x="1078" y="530" width="1" height="14" fill="#6d6d6d"/>
<rect x="1158" y="530" width="1" height="14" fill="#6d6d6d"/>
<polygon points="1182.6,536 1186.4,532.6 1186.4,539.4" fill="#000"/>
<polygon points="1205.4,536 1201.8,532.6 1201.8,539.4" fill="#a0a0a0"/>
</svg>
</body></html>
